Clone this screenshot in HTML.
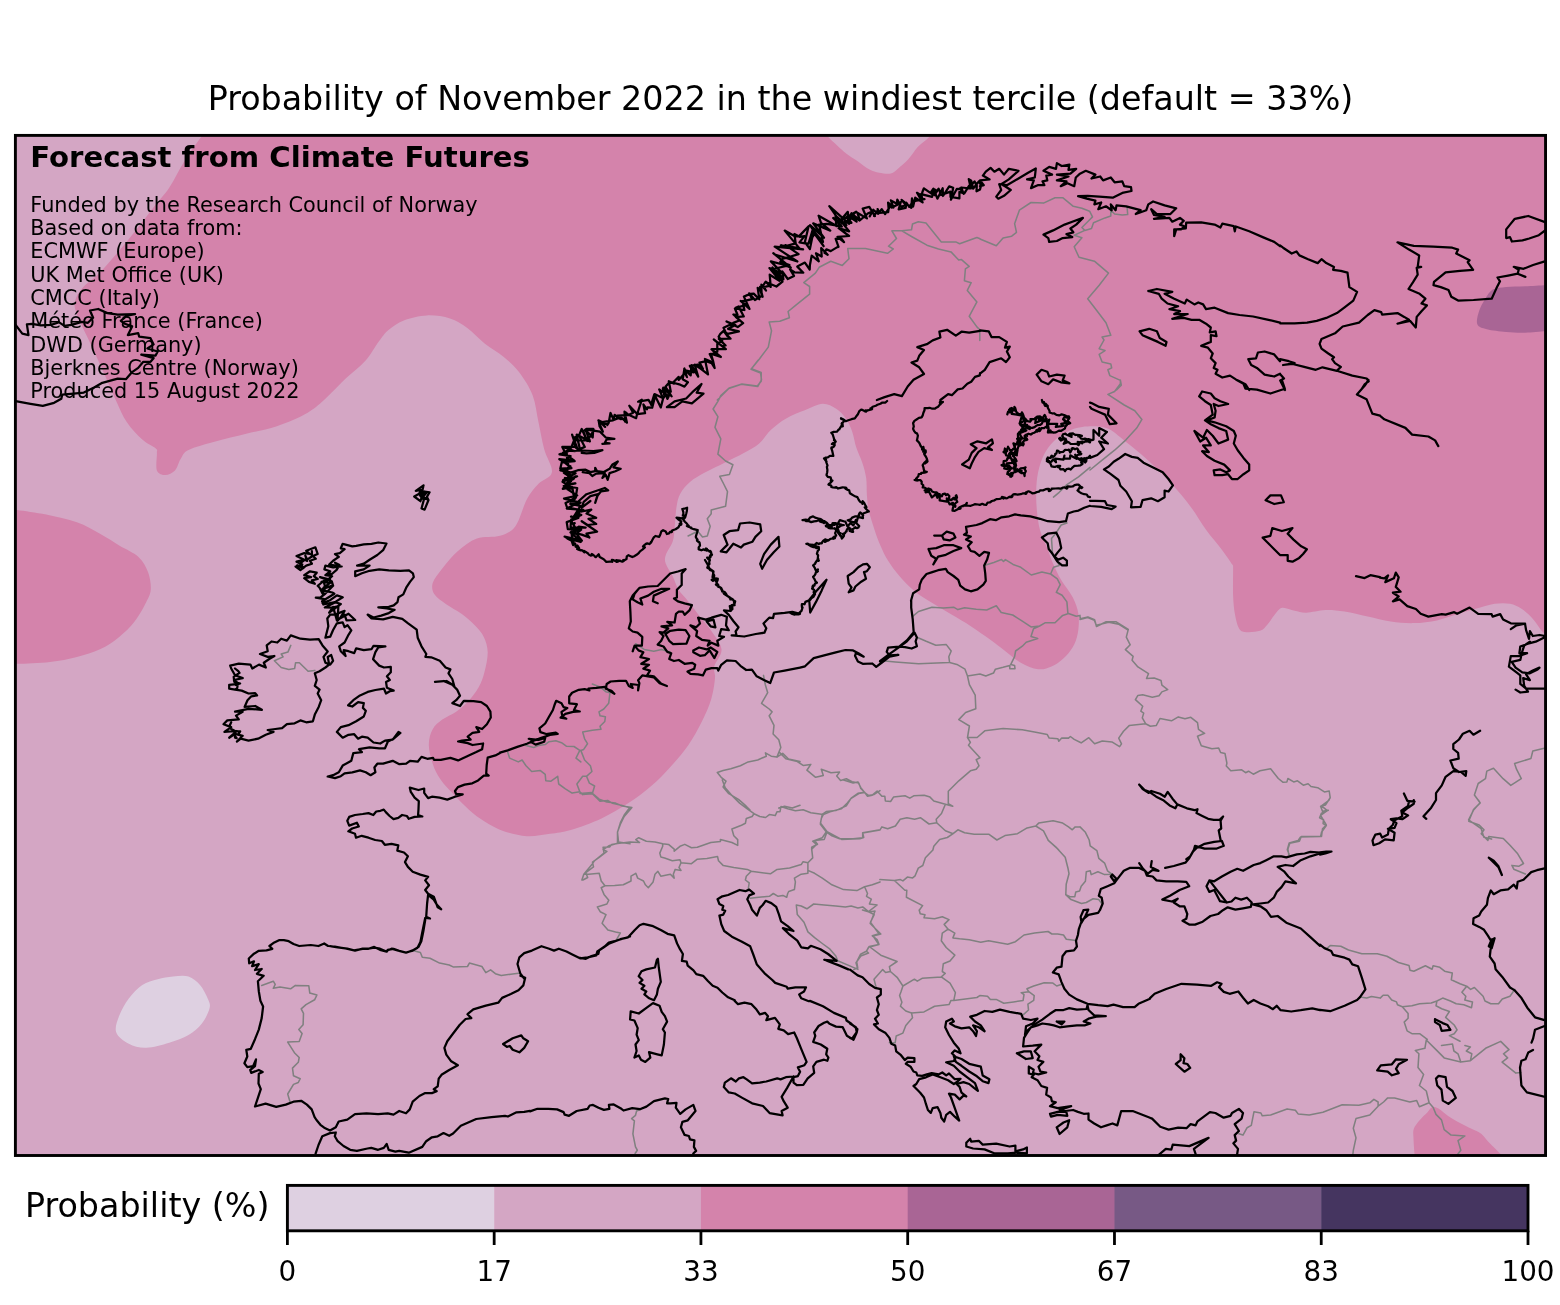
<!DOCTYPE html>
<html lang="en"><head><meta charset="utf-8"><title>Probability of November 2022 in the windiest tercile</title>
<style>
html,body{margin:0;padding:0;background:#fff;overflow:hidden}
svg{display:block;will-change:transform}
text{font-family:"DejaVu Sans","Liberation Sans",sans-serif;fill:#000}
.c{fill:none;stroke:#000;stroke-width:2.25;stroke-linejoin:round;stroke-linecap:round}
.b{fill:none;stroke:#808080;stroke-width:1.55;stroke-linejoin:round;stroke-linecap:round}
</style></head><body>
<svg width="1560" height="1305" viewBox="0 0 1560 1305">
<defs><clipPath id="ax"><rect x="15.4" y="135.4" width="1530.1499999999999" height="1020.1"/></clipPath></defs>
<rect width="1560" height="1305" fill="#fff"/>
<g clip-path="url(#ax)">
<rect x="15.4" y="135.4" width="1530.1499999999999" height="1020.1" fill="#d4a6c4"/>
<path d="M201.9,135.8C199.0,139.9 190.1,152.1 184.6,160.8C179.2,169.4 174.4,180.0 169.2,187.7C164.1,195.4 160.9,197.9 153.8,206.9C146.8,215.9 135.9,230.6 126.9,241.5C117.9,252.4 107.4,264.6 100.0,272.3C92.6,280.0 86.9,282.9 82.7,287.7C78.5,292.5 76.0,296.7 75.0,301.2C74.0,305.6 74.7,308.2 76.9,314.6C79.2,321.0 84.3,330.6 88.5,339.6C92.6,348.6 97.4,358.5 101.9,368.5C106.4,378.4 111.2,390.3 115.4,399.2C119.6,408.2 122.4,415.6 126.9,422.3C131.4,429.0 137.5,435.3 142.3,439.6C147.1,444.0 153.3,446.2 155.8,448.5C158.2,450.7 156.7,449.4 156.9,453.1C157.1,456.7 155.5,466.7 156.9,470.4C158.3,474.0 162.4,475.0 165.4,475.0C168.4,475.0 172.4,473.1 175.0,470.4C177.6,467.7 178.5,462.2 180.8,458.8C183.0,455.4 182.7,452.9 188.5,450.0C194.2,447.1 205.8,444.2 215.4,441.5C225.0,438.8 235.9,436.4 246.2,433.8C256.4,431.3 266.7,429.7 276.9,426.2C287.2,422.6 299.4,417.5 307.7,412.7C316.0,407.9 320.5,403.1 326.9,397.3C333.3,391.5 339.7,384.2 346.2,378.1C352.6,372.0 359.9,366.9 365.4,360.8C370.8,354.7 375.0,346.7 378.8,341.5C382.7,336.4 384.3,333.5 388.5,330.0C392.6,326.5 397.4,322.8 403.8,320.4C410.3,317.9 419.2,315.7 426.9,315.4C434.6,315.1 443.3,316.3 450.0,318.5C456.7,320.6 461.5,323.9 467.3,328.1C473.1,332.2 478.5,338.7 484.6,343.5C490.7,348.3 498.1,352.1 503.8,356.9C509.6,361.7 514.4,365.9 519.2,372.3C524.0,378.7 529.5,387.1 532.7,395.4C535.9,403.7 536.5,413.3 538.5,422.3C540.4,431.3 542.0,440.9 544.2,449.2C546.5,457.6 552.9,466.5 551.9,472.3C551.0,478.1 542.6,479.4 538.5,483.8C534.3,488.3 530.8,492.2 526.9,499.2C523.1,506.3 519.9,520.1 515.4,526.2C510.9,532.2 506.4,533.7 500.0,535.8C493.6,537.8 484.0,535.9 476.9,538.5C469.9,541.0 463.5,546.2 457.7,551.2C451.9,556.2 446.5,563.1 442.3,568.5C438.1,573.8 434.0,578.7 432.7,583.1C431.4,587.4 432.4,591.1 434.6,594.6C436.9,598.1 441.7,601.0 446.2,604.2C450.6,607.4 456.7,610.3 461.5,613.8C466.3,617.4 471.3,621.5 475.0,625.4C478.7,629.2 481.7,632.4 483.8,636.9C486.0,641.4 487.6,646.5 487.7,652.3C487.8,658.1 486.1,665.8 484.6,671.5C483.1,677.3 481.7,681.8 478.8,686.9C476.0,692.1 471.2,698.1 467.3,702.3C463.5,706.5 459.9,709.0 455.8,711.9C451.6,714.8 446.2,716.7 442.3,719.6C438.5,722.5 434.9,725.1 432.7,729.2C430.4,733.4 428.8,738.8 428.8,744.6C428.8,750.4 430.8,758.1 432.7,763.8C434.6,769.6 436.9,774.1 440.4,779.2C443.9,784.4 449.0,789.5 453.8,794.6C458.7,799.7 464.1,805.5 469.2,810.0C474.4,814.5 478.8,818.0 484.6,821.5C490.4,825.1 496.8,828.7 503.8,831.2C510.9,833.6 519.2,835.7 526.9,836.2C534.6,836.6 542.7,834.9 550.0,833.8C557.3,832.8 562.2,832.6 570.8,830.0C579.4,827.4 591.9,822.9 601.5,818.5C611.2,814.0 620.1,808.5 628.5,803.1C636.8,797.6 644.5,791.9 651.5,785.8C658.6,779.7 664.7,773.3 670.8,766.5C676.9,759.8 682.9,752.8 688.1,745.4C693.2,738.0 697.7,730.0 701.5,722.3C705.4,714.6 708.9,706.6 711.2,699.2C713.4,691.9 714.5,683.5 715.0,678.1C715.5,672.6 713.1,671.3 714.2,666.5C715.3,661.7 722.1,655.2 721.5,649.2C721.0,643.3 714.5,635.9 711.2,630.8C707.8,625.6 705.4,623.4 701.5,618.5C697.7,613.5 691.9,606.0 688.1,601.2C684.2,596.3 681.0,593.8 678.5,589.6C675.9,585.4 674.8,580.4 672.7,576.2C670.6,571.9 666.9,567.4 665.8,563.8C664.6,560.3 664.6,558.7 665.8,555.0C666.9,551.3 671.2,546.0 672.7,541.5C674.2,537.1 674.0,533.8 674.6,528.1C675.3,522.3 675.6,512.7 676.5,506.9C677.5,501.2 678.1,497.6 680.4,493.5C682.6,489.3 685.8,485.4 690.0,481.9C694.2,478.4 699.6,475.5 705.4,472.3C711.2,469.1 718.2,465.9 724.6,462.7C731.0,459.5 738.1,456.3 743.8,453.1C749.6,449.9 754.7,447.3 759.2,443.5C763.7,439.6 766.3,434.2 770.8,430.0C775.3,425.8 780.4,421.8 786.2,418.5C791.9,415.1 799.3,412.4 805.4,410.0C811.5,407.6 817.6,404.0 822.7,403.8C827.8,403.7 832.3,406.4 836.2,408.8C840.0,411.3 843.1,414.6 845.8,418.5C848.5,422.3 850.6,427.1 852.3,431.9C854.0,436.7 854.5,442.2 856.2,447.3C857.8,452.4 860.6,457.6 862.3,462.7C864.0,467.8 865.4,472.6 866.2,478.1C866.9,483.5 866.5,489.9 866.9,495.4C867.4,500.8 867.6,505.0 868.8,510.8C870.1,516.5 872.7,524.2 874.6,530.0C876.5,535.8 878.1,540.3 880.4,545.4C882.6,550.5 884.9,555.6 888.1,560.8C891.3,565.9 895.1,571.0 899.6,576.2C904.1,581.3 909.6,587.1 915.0,591.5C920.4,596.0 926.2,599.2 932.3,603.1C938.4,606.9 945.1,610.8 951.5,614.6C957.9,618.5 964.4,622.0 970.8,626.2C977.2,630.3 984.2,635.4 990.0,639.6C995.8,643.8 1000.3,647.3 1005.4,651.2C1010.5,655.0 1015.3,659.7 1020.8,662.7C1026.2,665.7 1032.9,668.6 1038.1,669.2C1043.2,669.9 1047.4,668.3 1051.5,666.5C1055.7,664.8 1059.6,662.1 1063.1,658.8C1066.6,655.6 1070.3,651.5 1072.7,647.3C1075.1,643.1 1076.7,639.3 1077.7,633.8C1078.7,628.4 1079.3,620.7 1078.5,614.6C1077.6,608.5 1075.6,603.1 1072.7,597.3C1069.8,591.5 1064.4,585.4 1061.2,580.0C1057.9,574.6 1055.7,569.7 1053.5,564.6C1051.2,559.5 1049.9,555.0 1047.7,549.2C1045.4,543.5 1041.8,536.4 1040.0,530.0C1038.2,523.6 1037.6,517.2 1036.9,510.8C1036.3,504.4 1036.0,497.9 1036.2,491.5C1036.3,485.1 1036.8,478.4 1038.1,472.3C1039.4,466.2 1041.3,460.1 1043.8,455.0C1046.4,449.9 1049.6,445.4 1053.5,441.5C1057.3,437.7 1062.1,434.4 1066.9,431.9C1071.7,429.5 1075.8,427.6 1082.3,426.9C1088.8,426.3 1099.0,425.6 1106.2,428.1C1113.3,430.5 1118.3,436.1 1125.4,441.5C1132.4,447.0 1140.8,453.7 1148.5,460.8C1156.2,467.8 1164.5,476.2 1171.5,483.8C1178.6,491.5 1185.0,499.2 1190.8,506.9C1196.5,514.6 1201.0,522.9 1206.2,530.0C1211.3,537.1 1217.2,543.5 1221.5,549.2C1225.9,555.0 1230.4,561.7 1232.3,564.6C1234.2,567.5 1232.9,561.4 1233.1,566.5C1233.2,571.7 1232.8,587.4 1233.1,595.4C1233.4,603.4 1234.0,609.2 1235.0,614.6C1236.0,620.1 1237.2,625.2 1238.8,628.1C1240.4,631.0 1241.1,631.5 1244.6,631.9C1248.1,632.4 1256.2,632.1 1260.0,630.8C1263.8,629.5 1265.1,627.1 1267.7,624.2C1270.3,621.4 1272.9,616.6 1275.4,613.8C1277.8,611.1 1279.1,608.2 1282.3,607.7C1285.5,607.2 1290.6,609.9 1294.6,610.8C1298.6,611.6 1301.0,612.8 1306.2,612.7C1311.3,612.6 1319.0,610.2 1325.4,610.0C1331.8,609.8 1337.6,610.4 1344.6,611.5C1351.7,612.6 1360.0,614.9 1367.7,616.5C1375.4,618.2 1383.1,620.4 1390.8,621.5C1398.5,622.6 1406.2,623.3 1413.8,623.1C1421.5,622.9 1429.9,621.8 1436.9,620.4C1444.0,619.0 1449.7,616.5 1456.2,614.6C1462.6,612.7 1469.0,610.6 1475.4,608.8C1481.8,607.1 1488.8,604.7 1494.6,603.8C1500.4,603.0 1505.5,603.0 1510.0,603.8C1514.5,604.7 1517.7,606.3 1521.5,608.8C1525.4,611.4 1529.6,615.4 1533.1,619.2C1536.6,623.1 1540.1,629.4 1542.7,631.9C1545.3,634.5 1547.5,634.2 1548.5,634.6L1560,640L1560,120L200,120Z" fill="#d483ab"/>
<path d="M825.4,132.7C825.9,133.4 826.3,134.8 828.3,136.9C830.2,139.0 833.9,142.4 836.9,145.2C840.0,148.0 843.0,151.1 846.5,153.8C850.1,156.6 854.2,158.9 858.1,161.5C861.9,164.2 866.1,167.8 869.6,169.6C873.1,171.5 875.7,172.1 879.2,172.7C882.8,173.3 887.6,174.2 890.8,173.5C894.0,172.7 895.6,170.6 898.5,168.3C901.3,166.0 904.9,163.1 908.1,159.6C911.3,156.1 914.8,150.3 917.7,147.1C920.6,143.9 923.5,142.1 925.4,140.4C927.3,138.7 928.1,138.2 929.2,136.9C930.4,135.6 931.6,133.4 932.1,132.7Z" fill="#d4a6c4"/>
<path d="M7.7,508.8C9.3,509.0 10.9,509.0 17.3,510.0C23.7,511.0 36.2,512.6 46.2,514.6C56.1,516.7 67.9,519.1 76.9,522.3C85.9,525.5 92.9,530.0 100.0,533.8C107.1,537.7 112.8,541.5 119.2,545.4C125.6,549.2 133.7,552.4 138.5,556.9C143.3,561.4 146.0,566.9 148.1,572.3C150.1,577.8 151.1,584.6 150.8,589.6C150.4,594.6 148.8,597.0 146.2,602.3C143.5,607.6 139.1,615.8 134.6,621.5C130.1,627.3 125.0,632.3 119.2,636.9C113.5,641.5 107.1,645.9 100.0,649.2C92.9,652.6 85.3,654.8 76.9,656.9C68.6,659.0 59.9,660.8 50.0,661.9C40.1,663.1 24.4,663.5 17.3,663.8C10.3,664.2 9.3,664.2 7.7,664.2L0,665L0,510Z" fill="#d483ab"/>
<path d="M173.1,976.5C178.2,976.1 184.0,975.1 188.5,976.5C192.9,977.9 196.8,981.3 200.0,985.0C203.2,988.7 206.1,994.6 207.7,998.5C209.3,1002.3 210.6,1003.9 209.6,1008.1C208.7,1012.2 205.4,1019.0 201.9,1023.5C198.4,1027.9 193.9,1031.8 188.5,1035.0C183.0,1038.2 176.3,1040.6 169.2,1042.7C162.2,1044.8 152.9,1047.5 146.2,1047.7C139.4,1047.9 133.8,1046.4 128.8,1043.8C123.8,1041.3 117.8,1037.0 116.2,1032.3C114.6,1027.6 117.1,1021.4 119.2,1015.8C121.3,1010.1 125.0,1003.6 128.8,998.5C132.7,993.3 137.5,988.2 142.3,985.0C147.1,981.8 152.6,980.6 157.7,979.2C162.8,977.8 167.9,977.0 173.1,976.5Z" fill="#ded0e1"/>
<path d="M1548.5,285.0C1544.6,285.2 1532.4,285.8 1525.4,286.2C1518.3,286.5 1511.6,286.3 1506.2,286.9C1500.7,287.5 1496.2,287.6 1492.7,289.6C1489.2,291.7 1487.2,295.7 1485.0,299.2C1482.8,302.8 1480.5,306.6 1479.2,310.8C1477.9,314.9 1476.0,321.2 1477.3,324.2C1478.6,327.3 1482.1,327.9 1486.9,329.2C1491.7,330.5 1499.7,331.3 1506.2,331.9C1512.6,332.5 1518.3,332.9 1525.4,332.7C1532.4,332.5 1544.6,331.1 1548.5,330.8Z" fill="#a96595"/>
<path d="M1414.8,1157.7C1414.6,1154.5 1413.6,1143.3 1413.5,1138.5C1413.3,1133.7 1412.8,1131.9 1413.8,1128.8C1414.9,1125.8 1417.4,1122.9 1419.6,1120.2C1421.9,1117.5 1425.2,1114.6 1427.3,1112.5C1429.4,1110.4 1430.2,1107.9 1432.1,1107.3C1434.0,1106.7 1436.1,1107.1 1438.8,1108.7C1441.6,1110.2 1444.9,1113.9 1448.5,1116.3C1452.0,1118.8 1456.2,1121.0 1460.0,1123.1C1463.8,1125.2 1468.0,1127.1 1471.5,1128.8C1475.1,1130.6 1478.3,1131.4 1481.2,1133.7C1484.0,1135.9 1486.4,1139.7 1488.8,1142.3C1491.2,1144.9 1493.2,1146.6 1495.6,1149.0C1498.0,1151.4 1502.0,1155.4 1503.3,1156.7Z" fill="#d483ab"/>
<g class="b">
<path d="M290.8,645.4L287.9,652.1L281.2,654.0L283.1,656.9L274.4,660.8L281.2,667.5L288.8,669.4L294.6,668.5L295.6,662.7L299.4,662.7L308.1,671.3L314.8,670.4 M412.7,950.6L420.4,952.5L422.3,957.3L430.0,958.3L439.6,963.1L449.2,965.0L453.1,966.9L467.5,966.5L469.4,963.1L481.9,966.5L485.8,972.7L490.6,969.8L495.4,973.7L501.2,975.6L510.8,974.2L520.4,973.1 M630.0,807.3L624.2,815.0L620.4,822.7L617.5,832.3L618.5,841.9L630.0,843.8 M618.5,842.9L608.8,845.8L603.1,849.6L606.9,851.5L599.2,857.3L592.5,862.1L593.5,866.9L585.8,872.7L587.7,877.5L582.9,880.0 M261.7,985.4L273.3,981.2L275.2,984.4L273.3,988.3L280.0,986.9L290.6,988.8L295.4,985.4L308.8,985.8L309.8,993.1L316.9,995.0L314.6,999.8L306.0,1004.6L301.2,1008.8L303.5,1013.3L303.1,1024.8L298.8,1029.6L302.1,1033.5L299.2,1041.5L287.7,1042.1L294.4,1052.7L299.2,1057.5L298.3,1062.3L292.5,1068.1L293.5,1075.8L300.2,1078.7L298.3,1082.5L293.5,1084.4L287.7,1094.0L290.0,1101.7 M635.6,643.7L644.2,649.4L653.8,651.3L661.5,649.4L670.2,651.9 M592.3,684.0L600.0,686.9L605.8,691.7L610.0,692.7L608.7,703.3L603.8,709.0L599.0,711.9L600.0,715.8L605.4,716.7L604.8,721.5L600.0,726.3L601.0,729.2L592.3,730.2L582.7,732.1L584.6,738.8L587.5,743.7L583.7,749.4L580.8,750.4 M526.0,745.6L533.7,747.5L538.5,745.6L545.2,744.6L549.0,741.7L555.8,740.8L561.5,742.7L566.3,746.2L574.0,746.5L579.8,750.4L576.0,758.1L580.8,761.9 M580.8,750.4L584.6,760.0L590.4,765.8L591.9,771.5L586.5,776.3L589.4,783.1L594.6,786.0L592.3,793.7 M507.7,752.3L509.6,758.1L518.3,761.9L522.1,760.0L526.0,765.8L531.7,771.5L540.4,770.6L545.2,774.4L545.8,780.8L551.0,781.2L557.7,776.3L558.7,784.0L565.4,788.8L572.1,793.1L579.8,791.7L576.9,784.0L582.7,776.3L586.5,776.3 M579.8,791.7L582.7,794.6L592.3,793.7L596.2,797.5L600.0,801.3L607.7,800.4L612.5,803.3L621.2,805.2L630.8,808.1 M763.5,675.4L765.4,685.0L767.7,692.7L761.5,703.3L769.2,709.0L772.1,711.9L769.2,715.8L774.0,725.4L773.1,734.0L778.8,739.8L780.8,747.5L776.9,757.1 M776.9,757.1L771.2,756.2L765.4,752.9L766.3,756.2L757.7,760.0L748.1,761.9L740.4,765.8L730.8,768.7L723.1,770.6L717.3,772.5L721.2,777.3L726.0,781.2L723.1,786.9L728.8,793.7L738.5,799.4L746.2,806.2L750.0,810.0 M776.9,757.1L782.7,753.3L788.5,759.0L800.0,761.5 M778.8,808.1L784.6,806.2L792.3,808.1L800.0,805.2 M758.3,360.0L751.5,368.7L761.2,372.5L761.2,381.2L757.3,386.0L741.9,384.0L729.4,387.9L720.8,395.6L717.9,401.3L713.1,409.0L717.9,416.7L715.0,427.3L720.8,438.8L717.9,454.2L725.6,461.0L732.9,464.8L729.4,474.4L719.8,476.3L723.7,484.0L727.5,491.7L725.6,506.2L711.2,510.0L711.2,513.8L707.3,518.7L710.2,526.3L707.3,536.0L702.5,536.9L697.7,531.2L688.1,536.0 M717.3,400.0L728.8,388.5L741.3,384.2L757.7,386.5L761.5,379.8L760.6,373.1L751.0,369.2L759.6,358.7L768.3,347.1L771.5,330.8L769.2,322.1L779.8,321.2L789.4,317.7L788.1,311.5L796.2,304.8L809.6,294.2L809.6,286.5L803.8,282.7L815.4,273.1L819.2,267.3L830.8,261.2L842.3,265.4L849.0,258.7L847.7,248.5L865.4,248.5L887.5,253.3L893.3,249.0L888.5,246.2L896.5,238.5L891.9,230.8L901.9,230.8 M901.9,230.8L911.5,236.5L926.9,245.2L938.5,249.0L951.0,251.9L958.7,260.0L961.5,259.6L969.2,266.3L965.4,268.8L964.4,280.8L971.2,282.7L967.3,290.4L976.9,301.9L969.2,316.3L976.9,326.9L979.8,329.8L979.8,340.4 M901.9,230.8L911.5,229.8L912.5,224.0L918.3,221.7L926.0,223.1L941.3,241.9L955.8,241.9L959.6,243.8L976.9,237.5L980.0,238.8 M984.2,565.4L993.8,562.5L1001.5,559.6L1003.5,561.5L1005.4,559.6L1013.1,564.4L1020.8,567.3L1031.3,575.0L1041.9,572.1L1050.6,574.0 M1066.0,521.2L1066.9,523.1L1061.2,525.0L1056.3,532.7L1051.5,538.5L1052.5,553.8L1057.3,561.5L1059.2,565.4L1053.5,567.3L1050.6,574.0 M1050.6,574.0L1057.3,578.8L1060.2,584.6L1056.3,592.3L1062.1,595.2L1066.9,601.9L1067.9,613.5 M1090.0,467.3L1078.5,476.9L1066.9,484.6L1059.2,492.3L1053.5,497.1 M880.0,660.6L895.4,661.9L918.5,663.8L949.2,662.5 M917.5,637.5L926.2,641.3L935.8,645.2L946.3,644.6L951.2,651.0L948.8,656.7L949.6,662.5 M949.6,662.5L956.9,664.4L965.0,669.2L967.5,676.0 M967.5,676.0L980.0,674.0L985.8,676.0L993.5,673.1L995.4,669.2L1003.1,667.3L1009.8,665.4L1009.8,668.8L1015.0,668.8L1014.6,665.4L1010.8,664.4L1014.6,656.7L1015.6,651.0L1022.3,646.2L1026.2,642.3L1037.7,638.5L1031.0,636.5L1033.5,628.8L1039.6,626.0 M967.5,676.0L969.4,684.6L975.2,695.2L975.8,708.7L965.6,712.5L958.8,719.6L969.4,726.0L967.5,737.5 M967.5,737.5L970.4,742.3L968.5,745.2L980.0,757.7L976.2,759.6L979.0,765.8L976.2,769.2L970.4,770.8L958.8,780.8L948.3,791.3L948.3,803.8L952.7,806.2 M967.5,737.5L977.1,737.5L984.8,730.8L1003.1,728.5L1022.3,729.8L1035.8,732.3L1047.3,734.6L1049.2,738.1L1057.9,738.8L1058.8,741.3L1061.7,738.1L1068.5,738.1L1070.4,736.5L1074.2,739.4L1080.0,742.3 M780.0,752.9L785.8,758.7L797.3,761.5L803.1,765.4L810.8,764.4L806.9,770.2L815.6,777.3L823.3,775.4L821.3,769.2L831.0,772.7L839.6,772.1L836.7,776.0L840.6,780.4L846.3,778.8L852.1,781.7L858.8,783.1L860.8,788.5L864.6,792.3 M864.6,792.3L867.5,796.2L872.3,795.2L877.1,791.0L881.9,796.2L884.8,796.2L885.4,801.0L890.6,801.5L893.5,797.1L905.0,795.8L909.8,798.1L913.7,795.8L924.2,795.2L930.0,797.1L933.8,801.0L945.4,804.2L952.7,806.2 M864.6,792.3L857.9,793.3L851.2,798.1L846.3,805.8L835.8,810.6L826.2,811.5L822.3,814.4 M822.3,814.4L820.4,823.1L827.1,831.7L824.2,839.4L814.6,840.4L817.5,844.2L811.7,847.1L811.7,850.0 M827.1,831.7L841.5,839.4L859.8,838.8L863.7,837.5L862.7,832.7L880.0,829.8L881.9,826.9L887.7,828.8L895.4,826.0L900.2,819.2L906.9,817.7L914.6,819.2L920.4,817.7L929.0,824.0L936.7,822.7 M945.4,804.2L941.5,813.5L936.2,819.2L936.7,822.7 M936.7,822.7L945.4,830.8L953.1,833.7L947.3,837.5L939.6,839.4L933.8,846.2L932.9,850.0 M953.1,833.7L957.9,829.8L964.6,832.7L974.2,834.2L988.7,834.2L996.9,840.0L1005.0,835.6L1017.5,833.7L1027.1,827.9L1035.8,826.0L1038.7,823.1L1053.1,820.8L1062.7,823.1L1068.5,826.9L1072.3,829.8L1075.2,826.9L1080.0,826.9 M1035.8,826.0L1043.5,830.8L1048.3,840.4L1056.9,848.1L1058.8,850.0 M912.7,616.3L918.5,611.5L931.9,607.3L943.5,608.1L954.0,607.3L957.9,609.6L964.6,607.7L976.2,609.2L986.7,610.0L996.3,605.8L1001.2,612.5L1012.7,615.0L1022.3,621.2L1031.0,626.9L1039.6,626.0L1045.4,622.7L1055.0,622.7L1062.7,615.4L1068.5,613.5 M1068.5,613.5L1076.2,616.3L1080.0,615.4 M583.8,874.2L588.7,874.2L599.2,873.3L601.2,881.0L605.0,885.8L601.2,887.7L604.0,894.4L608.8,900.2L606.9,904.0L597.3,906.9L600.2,911.7L606.0,914.6L602.1,923.3L607.9,930.0L615.6,931.9L620.4,932.9L616.5,939.6 M581.9,880.0L583.8,874.2L592.5,863.7L594.4,860.8L604.0,853.1L603.1,847.3L609.8,846.9L611.7,844.4L617.5,843.5L630.0,841.9L639.6,842.5L635.8,839.6L638.7,837.7L646.3,841.2L655.0,841.9L662.7,843.8L662.7,846.3L659.8,853.1L660.8,856.9L664.6,857.9L672.3,860.8L680.0,859.8L681.0,862.7L679.0,867.5L681.0,870.4L675.2,869.4L673.3,874.2L674.2,878.1L670.4,874.2L660.8,876.2L657.9,871.3L655.0,874.2L653.1,881.9L648.3,887.7L645.4,884.8L643.5,881.0L637.7,878.1L635.8,873.3L631.0,876.2L631.0,881.0L623.3,884.8L614.6,885.4L605.0,885.8 M580.0,793.5L591.5,792.5L599.2,799.2L606.9,802.1L615.6,803.1L622.3,806.0L631.9,807.5L624.2,816.5L620.4,824.2L617.5,831.9L617.5,843.5 M662.7,843.8L668.5,844.4L674.2,849.2L674.2,851.2L680.0,846.3L684.8,844.4L691.5,847.7L697.3,847.3L710.8,842.5L720.4,841.5L720.4,839.6L731.9,842.5L737.7,845.4L737.7,839.6L733.8,835.8L731.9,829.0L741.5,825.2L745.4,823.3L746.3,818.5L752.1,816.5L754.0,813.7 M722.3,780.0L725.2,787.7L731.9,795.4L739.6,803.1L747.3,808.8L754.0,813.7 M754.0,813.7L759.8,816.5L765.6,817.5L769.4,814.6L775.2,815.6L777.1,811.7L780.0,811.7L781.0,806.5L787.7,808.8L795.4,810.8L803.1,809.8L810.8,812.7L823.3,814.6 M681.0,862.7L691.5,863.7L697.3,859.2L706.9,858.5L717.5,856.5L718.5,860.8L723.3,865.6L733.8,867.5L747.3,869.4L751.2,871.3 M751.2,871.3L770.4,873.8L777.1,869.4L789.6,868.1L801.2,864.6L803.1,861.7L807.9,862.7 M807.9,862.7L812.7,857.9L811.7,849.2L816.5,844.4L812.7,841.2L822.3,837.7L826.2,831.9 M826.2,831.9L820.4,824.2L821.3,818.5L823.3,814.6 M823.3,814.6L830.0,811.7L841.5,808.8L847.3,803.1L851.2,798.3L858.8,793.5L864.6,792.5 M843.5,780.0L853.1,782.9L857.9,781.9L860.8,787.7L864.6,792.5L868.5,795.4L874.2,794.4L880.0,790.6 M826.2,831.9L831.9,835.8L839.6,838.7L853.1,838.7L862.7,837.7L862.7,832.9L874.2,831.0L880.0,830.0 M751.2,871.3L746.3,876.2L745.4,880.0L749.2,882.9L748.3,888.7L754.0,893.5 M750.2,898.3L758.8,897.3L769.4,896.3L773.3,893.5L778.1,896.3L782.9,895.4L786.7,897.3L787.7,893.5L788.7,891.5L794.4,889.6L795.4,881.9L794.4,878.1L801.2,874.2L807.9,873.3L807.9,862.7 M807.9,870.4L814.6,873.3L822.3,878.1L831.9,884.8L843.5,889.6L856.9,890.6L864.6,886.7L872.3,884.8L880.0,881.9 M837.7,960.8L835.8,956.0L830.0,949.2L822.3,943.5L814.6,937.7L807.9,931.9L804.0,922.3L797.3,914.6L796.3,905.0L801.2,906.0L806.9,908.8L813.7,904.0L824.2,905.0L835.8,906.0L845.4,906.9L851.2,906.0L857.9,907.9L862.7,906.9L868.5,911.7 M864.6,886.7L867.5,893.5L866.5,896.3L871.3,899.2L869.4,904.0L877.1,905.0L868.5,911.7L874.2,914.6L870.4,922.3L876.2,930.0L879.0,933.8L872.3,935.8L877.1,939.6L879.0,944.4L868.5,947.3L866.5,951.2L868.5,953.1L860.8,956.0L856.0,962.7L857.9,969.4L849.2,965.6L837.7,960.8 M641.0,1109.2L636.6,1111.0L635.5,1115.3L631.6,1118.6L634.4,1120.8L632.9,1133.9L635.5,1146.9L637.3,1150.2L635.1,1153.5 M862.5,910.0L869.2,911.9L875.0,911.0L870.2,923.5L880.8,934.0L873.1,936.0L878.8,944.6L869.2,946.5L866.3,951.3L860.6,954.2L856.7,961.9L857.7,967.7L853.8,969.6 M869.2,946.5L880.8,955.2L897.1,961.5L889.4,966.7L890.4,971.5L885.6,972.5L882.7,969.6L874.0,979.2L876.0,986.9 M890.4,971.5L897.1,977.3L902.9,986.0L901.0,991.7L899.6,995.6L901.9,1002.3L900.4,1006.2L905.8,1011.0L911.5,1012.9 M902.9,986.0L914.4,979.2L917.3,981.2L922.1,978.3L941.3,976.9 M919.2,910.0L920.2,913.8L925.0,914.8L924.0,917.7L934.6,918.7L942.3,916.7L949.0,919.6L944.2,924.4L948.1,929.2L942.3,933.1L941.3,940.8L946.2,947.5L954.8,955.2L950.0,961.0L943.3,963.8L942.3,971.5L945.2,973.5L941.3,976.9 M948.1,929.2L954.8,933.1L952.9,937.9L959.6,938.8L969.2,939.8L980.8,942.3L988.5,940.8L1007.7,944.2L1015.4,941.7L1024.0,935.0L1034.6,933.1L1048.1,931.5L1051.9,934.0L1057.7,934.0L1063.5,935.0L1066.3,939.2L1076.0,940.4 M941.3,976.9L950.0,983.1L955.4,992.7L953.8,1000.4 M911.5,1012.9L924.0,1011.9L934.6,1006.2L949.0,1004.6L951.0,1000.4L953.8,1000.4 M953.8,1000.4L967.3,998.8L976.9,997.5L979.8,995.6L987.5,996.2L990.4,999.4L996.2,999.4L1003.8,1003.3L1013.5,1001.9L1023.1,1000.4L1024.0,994.6L1021.2,992.7L1028.8,991.7 M1028.8,991.7L1026.9,988.8L1033.7,986.0L1044.2,982.7L1052.9,983.1L1056.7,986.0L1062.5,984.0 M1028.8,991.7L1034.2,995.6L1033.7,1000.4L1027.9,1004.2L1028.5,1010.0L1023.1,1014.8 M911.5,1012.9L912.5,1017.7L905.8,1025.4L902.9,1033.1L896.2,1036.0L895.2,1042.7L889.4,1042.7 M1047.9,840.0L1056.5,847.7L1065.2,857.3L1068.1,868.8L1069.0,873.7L1066.2,884.2L1065.8,894.8L1071.0,899.6L1081.5,903.5L1086.3,902.5L1093.1,898.7L1098.8,899.6L1101.7,903.5 M1080.0,826.9L1085.4,832.3L1089.2,840.0L1090.2,845.8L1096.9,850.6L1098.8,858.3L1104.6,863.1L1107.5,870.8L1111.9,874.2 M1111.9,874.2L1104.6,874.6L1097.9,871.7L1091.2,874.6L1090.2,870.8L1086.3,871.7L1085.4,881.3L1081.2,886.2L1079.6,891.0L1075.8,891.9L1074.8,896.7L1070.0,896.7L1065.8,894.8 M1299.8,840.0L1289.2,842.9L1287.3,849.6L1289.2,854.4 M1329.2,800.0L1321.5,805.8L1327.3,810.6L1320.6,815.4L1326.3,825.0L1322.5,828.8L1321.5,836.5L1301.3,836.5L1299.4,841.3L1289.8,843.3L1287.9,849.0L1288.8,854.8 M1327.3,948.1L1330.2,945.6L1340.8,946.2L1348.5,950.0L1361.9,953.8L1377.3,953.8L1386.9,956.2L1398.5,962.5L1409.0,965.4L1410.0,970.2L1413.8,971.2L1425.4,965.8L1432.1,969.2L1433.1,965.8L1439.8,967.3L1444.6,971.2L1452.3,973.1L1451.3,979.8L1460.0,983.7L1466.7,986.2 M1466.7,986.2L1470.6,989.4L1474.4,987.5L1483.1,996.2L1485.0,1001.0L1490.8,1003.8L1498.5,1003.8L1502.3,999.0L1510.0,996.2L1514.8,989.4 M1466.7,986.2L1461.9,992.3L1465.8,996.2L1464.8,1000.0L1472.5,1001.9L1471.5,1007.7L1463.8,1004.8L1456.2,1003.8L1450.4,1001.0L1442.7,998.1L1436.9,1001.0 M1360.0,997.1L1366.7,998.1L1371.5,996.5L1380.2,998.1L1383.1,995.2L1387.9,995.2L1391.7,1000.0L1396.5,1001.9L1397.5,1004.8L1402.3,1006.7L1411.9,1005.8L1419.6,1003.8L1431.2,1002.9L1436.9,1001.0 M1402.3,1006.7L1408.1,1013.5L1408.1,1018.3L1404.2,1022.1L1407.1,1030.8L1411.9,1033.7L1419.6,1033.7L1427.3,1039.4 M1436.9,1001.0L1436.0,1005.8L1441.7,1008.7L1449.4,1011.5L1445.6,1017.3L1454.2,1025.0L1457.1,1029.8L1454.2,1033.7L1449.4,1035.6L1460.0,1041.3 M1478.3,800.0L1480.2,802.9L1473.5,809.6L1468.7,821.2L1479.2,825.0L1484.0,829.8L1481.2,833.7L1487.9,840.4L1488.8,836.5L1503.3,838.5L1510.0,845.2L1517.7,853.8L1523.5,863.5L1518.7,866.3L1511.9,865.4L1513.8,869.2L1525.4,874.0 M1238.9,1133.7L1243.0,1135.1L1247.1,1127.7L1251.3,1125.4L1254.0,1111.7L1260.9,1113.0L1262.3,1115.8L1270.6,1115.0L1287.1,1108.9L1295.4,1110.3L1298.1,1113.9L1309.2,1115.0L1322.9,1112.2L1342.2,1104.8L1358.8,1105.3L1369.8,1102.8L1373.9,1099.3L1378.1,1102.0L1378.1,1106.2 M1378.1,1106.2L1369.8,1115.0L1356.0,1118.6L1353.3,1128.2L1356.0,1137.9L1353.3,1150.3L1352.7,1155.8 M1378.1,1106.2L1383.6,1102.0L1387.7,1097.9L1394.6,1097.9L1409.8,1102.0L1416.7,1100.6L1419.4,1106.7L1429.1,1102.8 M1429.1,1102.8L1426.3,1091.0L1419.4,1085.5L1423.6,1074.5L1418.0,1067.6L1418.9,1053.8L1415.3,1050.5L1424.9,1048.3L1426.3,1040.0 M1429.1,1102.8L1433.2,1107.5L1436.0,1114.4L1441.5,1119.9L1444.2,1129.6L1451.1,1135.1L1464.9,1135.9L1458.0,1140.6L1460.8,1150.3L1456.6,1155.8 M1426.3,1040.0L1436.0,1049.6L1444.2,1057.9L1460.8,1062.1L1470.4,1060.7L1485.6,1048.3L1500.7,1041.4L1509.0,1049.6L1503.5,1053.8L1507.6,1057.9L1502.1,1062.1L1515.9,1073.1L1520.8,1072.5 M1441.5,1045.5L1452.5,1044.1L1453.9,1051.0L1458.0,1053.8L1460.8,1062.1 M1464.9,1045.5L1470.4,1046.9L1466.3,1051.0L1471.8,1053.8L1470.4,1060.7 M980.0,239.0L996.3,245.8L1003.1,238.1L1011.7,236.2L1016.5,232.3L1014.6,223.7L1019.4,210.2L1031.0,202.5L1043.5,203.1L1055.0,197.7L1062.7,197.7L1073.3,206.3L1081.9,208.3L1089.6,211.2L1092.5,216.9L1087.7,221.7L1081.9,227.5L1084.8,230.4L1091.5,228.5L1093.5,222.7L1105.0,217.9L1110.8,216.0L1110.8,210.2 M1110.8,210.2L1114.6,214.0L1122.3,215.0L1127.7,214.6L1127.1,207.3 M1084.8,230.4L1074.2,235.2L1081.9,237.7L1074.2,246.7L1079.0,257.3L1094.4,261.2L1108.5,273.1L1099.2,285.2L1087.7,298.7L1097.3,311.2L1106.0,322.7L1110.8,335.2L1102.1,337.1L1104.0,340.0L1099.2,348.7L1105.0,350.6L1099.2,354.4L1102.1,362.1L1110.8,364.0L1111.7,367.9L1107.9,369.8L1109.8,375.6L1120.4,380.4L1121.3,385.2L1116.5,390.0 M1120.4,380.0L1120.4,383.8L1114.6,391.5L1107.9,394.4L1124.2,405.0L1134.8,410.8L1141.9,419.4L1136.7,428.1L1126.2,439.6L1114.6,450.2L1101.2,460.8L1090.0,470.0 M1080.0,619.4L1087.7,617.5L1094.4,620.4L1096.3,625.2L1108.8,622.3L1118.5,624.2L1128.1,630.0 M1080.0,616.0L1080.2,618.8L1087.9,616.9L1094.6,619.8L1096.5,626.5L1106.2,621.7L1115.8,621.7L1123.5,626.5L1128.3,629.4L1126.3,637.1L1130.2,644.8L1125.4,649.6L1133.1,656.3L1132.1,660.2L1137.9,666.9L1148.5,673.7L1146.5,678.5L1154.2,678.1L1161.0,680.4L1161.9,685.2L1167.7,689.6L1161.9,691.9L1159.0,695.8L1152.3,697.3L1142.7,694.8L1137.9,695.4L1135.4,699.6L1142.7,706.3L1140.8,711.2L1143.7,713.1L1142.3,717.9L1145.6,723.7 M1080.0,742.3L1081.2,742.9L1088.8,737.7L1094.6,743.8L1102.3,741.0L1111.9,741.9L1119.6,746.7L1121.5,743.8L1118.7,738.1L1123.5,731.3L1129.2,725.6L1145.6,723.7 M1145.6,723.7L1150.4,726.2L1156.2,725.6L1160.0,718.5L1171.5,720.8L1178.3,716.9L1185.0,718.8L1190.8,717.3L1197.5,722.7L1198.5,729.4L1204.6,733.3L1197.5,736.2L1201.3,745.8L1211.9,748.7L1218.7,748.1L1220.6,752.5L1225.0,753.5L1226.9,763.1L1226.3,766.0L1230.8,770.8L1241.7,769.8L1245.6,772.7L1248.5,771.2L1253.3,774.2L1260.0,770.8L1270.6,768.8L1278.3,778.5L1283.1,782.3L1286.9,781.9L1287.9,778.5L1293.7,781.9L1297.5,780.8L1303.3,785.2L1308.1,783.8L1311.0,786.5L1317.7,787.7L1324.4,791.9L1329.2,791.0L1330.2,797.7L1325.4,805.0L1320.6,806.3L1322.5,811.2L1328.3,810.2L1321.5,813.1L1319.6,817.9L1323.5,819.8L1323.1,823.7L1326.3,825.6L1321.5,832.3L1320.6,836.5L1300.4,837.1L1298.5,840.0 M1545.3,748.1L1532.8,751.0L1530.9,758.6L1514.6,763.4L1516.5,769.2L1521.3,778.7L1510.8,785.4L1503.1,778.7L1493.5,768.2L1486.8,771.1L1485.5,778.7L1478.2,783.5L1474.4,795.0L1480.1,802.7L1473.4,810.3L1468.6,819.9L1481.1,828.6L1483.9,837.2L1491.6,839.1 M932.9,850.0L925.4,857.8L922.8,865.5L918.3,868.1L915.1,875.8L912.6,877.9L907.4,877.1L902.9,880.9L900.4,879.6L894.4,880.5 M894.4,880.5L879.9,879.6 M894.4,880.5L904.9,890.3L906.8,890.3L906.4,897.2L922.6,905.6L919.6,909.7L919.2,910.4"/>
</g>
<g class="c">
<path d="M342.7,543.8L352.3,546.3L356.2,545.8L363.8,544.4L371.5,543.8L378.3,542.5L386.5,543.5L383.1,550.2L377.3,555.0L369.6,559.8L363.8,563.7L357.1,565.6L369.6,565.6L363.8,569.4L355.2,571.3L355.2,576.2L361.9,573.3L369.6,570.8L379.2,569.4L388.8,570.4L400.4,570.8L409.0,570.4L412.9,573.3L413.8,577.1L410.0,581.9L406.2,587.7L403.3,594.4L398.5,597.3L397.5,602.1L393.7,605.4L388.8,606.9L378.3,607.3L386.9,608.5L394.6,609.8L388.8,613.1L381.2,615.6L373.5,617.5L367.7,614.6L371.5,618.5L383.1,619.4L392.7,616.9L402.3,618.8L408.1,623.3L416.7,629.6L417.7,637.7L421.5,646.3L426.3,654.0L425.4,656.9L431.2,657.3L439.8,660.8L445.6,667.5L450.4,669.4L448.5,673.3L452.3,679.0L454.2,685.8L446.5,681.0L435.0,681.9L443.7,681.0L452.3,684.8L457.1,689.6L460.0,695.8L456.2,700.2L452.3,703.1L460.0,706.0L463.8,700.8L473.5,701.2L481.2,702.1L486.9,706.0L490.4,711.7L490.8,717.5L486.9,724.2L482.1,729.0L476.3,727.1L479.2,731.9L472.5,732.9L467.7,736.7L470.6,739.6L461.9,740.6L458.1,741.5L467.7,743.1L472.5,745.0L483.1,743.5L482.1,749.2L476.3,752.1L467.7,756.0L458.1,760.4L450.4,757.9L440.8,759.8L434.0,759.8L433.1,757.9L427.3,758.8L421.5,756.9L417.7,761.7L410.0,760.8L406.2,763.7L399.4,764.2L392.7,760.8L383.1,763.7L377.3,763.7L374.4,767.5L375.4,772.3L370.6,775.2L365.8,772.3L360.0,770.4L352.3,772.3L344.6,773.3L340.8,776.2L335.0,778.1L327.7,776.5L333.1,775.2L338.8,772.3L342.7,765.6L351.3,760.8L353.3,753.1L361.9,752.1L359.0,749.2L369.6,747.3L379.2,748.3L385.0,748.3L387.9,741.5L393.7,738.7L400.4,732.9L398.5,731.9L392.7,739.6L385.0,740.6L380.2,743.5L373.5,742.5L367.7,737.7L361.9,736.7L358.1,738.7L354.2,734.2L348.5,734.8L342.7,737.7L336.9,731.9L340.8,727.1L348.5,725.2L356.2,721.3L363.8,716.5L365.8,710.8L362.9,707.9L363.8,703.1L358.1,702.1L352.3,706.5L348.1,705.4L353.3,700.2L360.0,695.4L367.7,691.9L375.4,690.0L384.0,688.7L386.0,693.5L389.8,691.2L393.7,690.6L386.9,687.7L386.0,681.9L389.8,680.0L386.9,676.2L390.8,672.3L390.8,666.9L384.0,667.5L379.2,665.6L373.1,659.2L375.4,652.1L378.3,647.3L385.4,646.3L373.5,645.8L371.5,649.2L363.8,650.2L356.2,648.3L354.2,653.1L348.5,651.2L343.7,650.2L345.6,656.0L340.8,651.2L339.2,646.3L344.6,642.5L348.5,634.8L351.3,630.4L347.5,625.2L344.6,627.1L342.7,622.3L336.9,623.3L333.1,630.0L330.2,636.7L325.4,637.7L328.3,626.2L327.3,618.5L330.2,614.6L335.0,614.6L344.6,610.8L339.8,618.5L348.5,613.7L355.2,620.0L346.5,620.4L344.6,614.6L336.9,620.4L333.1,606.9L329.2,612.7L340.8,604.0L335.0,602.1L342.7,597.3L336.9,595.4L330.2,600.2L322.5,603.1L324.4,599.2L315.8,597.7L320.6,597.3L325.4,593.5L333.1,585.8L323.5,587.7L330.2,582.9L321.5,581.9L327.3,580.4L332.1,576.2L325.4,575.2L330.2,571.3L324.4,569.4L325.4,565.6L333.1,567.5L341.7,566.5L336.0,565.6L329.2,564.6L333.1,560.8L338.8,556.9L335.0,554.0L339.8,553.1L344.6,549.2L340.8,548.3L342.7,543.8 M315.4,547.3L317.7,554.0L312.9,556.0L315.8,558.8L310.0,560.8L311.9,563.7L306.2,565.6L300.4,570.0L295.6,566.5L302.3,564.6L296.5,561.7L304.2,559.8L296.5,556.0L304.2,553.1L310.0,554.0L306.2,550.8L315.4,547.3 M304.2,575.2L310.0,571.3L316.7,572.7L313.8,576.2L317.7,579.0L311.9,580.4L314.8,583.8L309.0,581.9L304.2,578.1L311.0,577.1L304.2,575.2 M317.7,585.8L323.5,581.0L325.4,587.7L322.5,593.5L319.6,587.7L317.7,585.8 M290.8,635.4L300.4,638.7L310.0,639.6L318.7,639.2L322.5,645.4L327.7,651.5L323.5,656.9L325.4,662.7L330.2,664.6L333.1,660.8L331.2,655.0L327.7,656.9L329.2,664.6L325.4,667.5L319.6,671.3L314.8,673.3L316.7,680.0L314.8,685.8L319.6,689.6L317.7,693.5L321.2,700.2L318.7,706.9L314.8,714.6L312.9,721.3L306.2,722.3L300.4,720.4L294.6,723.3L286.9,724.2L282.1,728.1L275.4,729.0L267.7,730.0L273.5,731.9L265.8,734.8L258.1,738.7L248.5,740.6L240.8,738.7L236.9,741.5L242.7,735.8L235.0,733.8L229.2,737.7L236.9,731.0L224.4,731.9L231.2,727.1L223.5,724.2L227.3,720.4L238.8,719.4L236.0,715.6L242.7,711.7L235.0,711.7L248.5,708.8L261.9,709.8L255.2,706.0L244.6,706.9L247.5,700.2L251.3,696.3L257.1,695.4L255.2,693.1L248.5,693.5L241.7,690.6L235.0,689.6L229.2,688.7L229.2,684.8L238.8,683.8L234.0,680.0L242.7,678.1L235.0,675.2L231.2,668.5L230.2,665.6L238.8,663.7L250.4,664.6L252.3,668.5L259.0,664.6L265.8,667.5L263.8,662.7L269.6,658.8L274.4,656.0L267.7,656.9L260.0,654.0L267.7,651.2L266.7,645.4L271.5,641.5L277.3,642.5L281.2,638.7L286.9,640.6L290.8,635.4 M335.0,562.7L339.5,565.1L336.6,569.9L331.9,574.0L329.4,573.5L330.1,579.6L320.0,577.1L331.7,581.2L333.0,585.4L320.7,589.8L332.3,592.5L334.4,593.7L322.1,601.3L325.1,601.5L323.3,604.5L336.0,601.9L324.8,607.5L332.7,607.7L338.4,606.2L337.7,617.4L337.5,620.9L339.0,619.1L340.8,617.5 M311.9,551.2L311.9,556.0L311.8,556.5L307.2,559.6L305.3,555.7L307.2,560.9L305.1,559.7L300.1,563.3L303.4,568.1L297.1,565.4L300.4,566.5 M231.2,722.3L229.4,726.3L230.8,728.8L235.0,731.1L240.2,731.3L238.2,734.5L233.3,734.2L236.6,738.1L235.0,737.7 M235.0,668.5L238.3,671.2L239.5,672.9L233.7,676.8L234.3,681.9L240.1,683.5L235.6,684.8L237.6,685.3L237.1,688.6L235.0,689.6 M500.0,753.1L495.4,755.4L487.7,757.7L486.7,765.0L486.2,773.7L488.7,775.6L483.8,775.6L478.1,780.4L472.3,783.3L464.6,784.6L457.9,787.1L455.0,791.0L456.0,793.8L462.7,794.4L455.0,796.7L447.3,799.6L439.6,797.7L431.9,796.7L428.1,798.1L424.2,792.9L424.2,788.5L418.5,790.0L409.8,787.7L410.8,791.9L414.6,797.7L418.8,801.2L418.5,809.2L418.1,815.0L422.3,816.5L414.6,816.9L408.8,818.8L406.9,816.0L402.1,815.0L398.3,817.9L393.5,819.2L389.6,816.0L385.8,812.1L383.8,809.6L380.4,810.8L376.2,811.5L373.3,815.0L368.5,813.1L362.7,814.0L355.0,815.0L349.2,816.9L347.3,820.8L349.2,825.6L356.9,822.7L358.8,826.5L352.1,828.5L348.3,831.3L355.0,833.8L356.0,837.7L361.7,835.8L368.5,837.7L375.2,840.0L381.9,841.0L384.8,844.8L391.5,843.8L398.3,845.4L397.3,850.6L404.0,852.5L407.9,856.3L405.0,862.1L407.9,866.9L412.7,871.7L420.4,874.6L428.1,876.9L425.2,880.4L429.0,885.2L425.2,890.0L428.1,893.8L433.8,896.7L437.7,907.3L441.2,909.2L436.7,904.4L433.8,899.6L428.1,894.8L427.1,903.5L426.2,916.9L430.0,918.5L425.2,917.9L422.3,932.3L420.4,941.9L417.5,947.7L412.7,950.6L406.0,952.5L398.3,950.6L391.5,948.7L385.8,951.2L380.0,948.7L374.2,947.7L368.5,948.7L362.7,948.7L355.0,950.6L347.3,948.7L337.7,947.3L330.0,946.2 M524.2,978.5L520.4,973.7L517.5,964.0L519.4,957.3L524.2,953.1L531.9,950.6L541.5,946.2L549.2,948.7L554.0,950.6L558.8,948.7L566.5,951.5L572.3,954.4L580.0,958.3L587.7,957.3L596.3,955.4L597.3,951.5L603.1,947.7L608.8,943.8L618.5,940.0L630.0,936.5 M425.2,920.0L423.3,931.5L421.3,941.2L418.5,946.9L412.7,950.4L406.0,952.7L399.2,950.8L393.5,948.8L387.7,949.8L386.7,951.7L380.0,949.8L374.2,946.9L368.5,948.8L362.7,948.8L354.0,950.4L345.4,948.5L334.8,946.5L328.1,946.0L324.2,943.5L318.5,946.0L310.8,945.0L299.2,946.0L293.5,944.0L288.7,941.2L283.8,940.2L279.0,940.2L273.3,943.1L269.4,946.0L272.3,948.8L266.5,950.4L258.8,950.8L254.0,953.7L248.8,958.5L249.2,963.3L254.0,961.3L252.1,966.2L258.8,964.2L255.0,970.0L261.7,969.0L256.9,973.8L263.7,975.8L257.9,981.2L258.8,991.2L260.4,1000.8L263.1,1006.5L261.7,1018.1L258.8,1029.6L255.0,1039.2L250.8,1048.8L246.3,1049.8L247.3,1056.5L244.4,1063.3L247.3,1067.1L253.1,1066.2L256.0,1059.4L255.0,1066.2L250.2,1070.0L251.2,1072.9L258.8,1070.0L262.7,1071.9L258.8,1073.8L258.5,1083.5L260.8,1089.2L257.9,1097.9L255.0,1106.5L265.6,1103.7L276.2,1106.9L285.8,1104.6L293.5,1101.7L301.2,1100.8L306.9,1104.6L311.7,1109.4L314.6,1117.1L316.5,1120.0L320.4,1124.8L324.2,1127.7L330.0,1130.6L335.8,1127.3L338.7,1121.5L347.3,1119.6L355.0,1114.2L366.5,1113.3L378.1,1114.2L387.7,1113.3L393.5,1114.6L399.2,1111.0L406.0,1113.3L409.8,1109.4L412.7,1101.7L419.4,1096.0L425.2,1093.1L431.9,1093.1L436.7,1091.2L433.8,1089.2L437.7,1086.3L438.7,1078.7L441.5,1074.8L449.2,1070.0L457.9,1065.2L451.2,1061.3L446.3,1054.6L444.4,1047.9L447.3,1041.2L453.1,1033.5L459.8,1024.8L465.6,1019.0L471.3,1018.1L467.5,1014.2L473.3,1009.4L485.8,1005.6L498.3,1002.7L502.1,997.9L510.8,994.0L518.5,990.2L523.3,985.4L525.2,977.7L520.4,975.8 M315.6,1153.7L318.5,1145.0L322.3,1136.3L330.0,1133.1L335.8,1132.5L334.8,1136.3L337.7,1141.2L343.5,1146.0L350.2,1149.8L356.9,1150.8L367.5,1148.5L371.3,1147.9L378.1,1149.8L383.8,1147.9L386.7,1144.0L388.7,1149.8L395.4,1151.7L399.2,1150.8L408.8,1152.7L422.3,1146.9L426.2,1141.2L431.9,1137.3L437.7,1136.3L443.5,1133.1L449.2,1135.8L453.1,1133.5L460.8,1125.8L476.2,1119.0L491.5,1117.1L505.0,1115.8L507.9,1116.5L516.5,1112.3L524.2,1111.9L530.0,1110.8 M503.1,1044.0L512.7,1038.3L521.3,1035.4L523.3,1038.3L528.1,1041.2L524.2,1047.9L519.4,1052.3L512.7,1049.8L509.8,1046.0L506.9,1046.9L503.1,1044.0 M500.0,752.7L507.7,750.4L517.3,746.9L526.9,743.7L533.7,740.8L528.8,738.8L538.5,739.8L545.2,737.9L544.2,741.7L535.6,744.6L530.8,741.7L541.3,737.9L550.0,735.0L557.7,734.0L555.8,732.7L546.2,734.0L540.4,732.1L539.4,728.3L545.2,723.5L549.0,716.7L552.9,710.0L554.8,704.2L556.2,700.8L561.5,703.3L563.5,707.1L567.3,708.1L561.5,711.9L562.5,716.7L566.3,718.7L560.6,717.7L565.4,713.8L573.1,711.9L579.8,711.5L574.0,710.0L576.9,704.2L569.2,703.3L569.2,696.5L572.1,692.7L578.8,689.8L584.6,689.2L589.4,690.4L588.5,688.5L596.2,687.9L604.8,686.9L609.6,690.8L614.4,693.7L611.5,690.8L605.8,688.8L606.7,684.0L610.6,681.5L619.2,680.8L626.0,680.8L628.8,686.0L632.7,687.9L630.8,684.0L638.5,685.0L638.1,690.4L639.4,683.1L638.1,680.2L642.3,675.4L648.1,676.3L653.8,677.3L659.6,683.1L666.9,686.0L661.5,684.0L653.8,676.3L647.1,675.4L650.0,670.6L643.3,668.7L649.0,664.8L641.3,663.8L649.0,659.0L640.4,657.1L643.3,652.3L638.5,650.4L634.6,645.6L632.7,651.3L634.6,645.6L641.9,645.6L642.3,636.9L637.5,632.7L632.7,631.5L628.8,628.3L630.8,621.5L630.4,611.9L629.8,601.3L632.7,595.6L639.4,587.9L648.1,586.5L657.7,586.0L664.4,579.2L670.2,573.5L677.9,571.5L685.6,569.2L681.7,573.5L681.7,585.0L676.9,589.8L676.9,597.5L674.0,598.5L677.9,601.3L684.6,603.3L691.9,605.2L689.4,610.4L684.6,614.8L682.7,611.5L678.8,611.5L676.0,613.8L674.6,622.5L667.3,621.9L672.1,625.4L661.5,626.3L668.3,628.3L663.5,632.7L659.6,632.1L663.5,636.0L661.2,640.8L657.7,644.6L663.5,646.5L667.3,651.9L671.2,653.3L669.2,659.0L674.0,661.0L678.8,660.0L684.6,663.8L692.3,662.9L695.2,664.8L694.2,668.7L687.5,671.5L690.4,673.8L698.1,674.4L702.9,675.4L705.8,669.6L711.5,668.1L717.3,668.1L718.3,670.6L721.2,664.8L726.9,660.4L735.6,661.0L740.4,665.8L746.2,670.0L751.9,669.6L756.7,676.3L764.4,680.2L770.2,683.1L774.0,672.5L784.6,670.6L800.0,667.7 M639.4,587.9L634.6,593.7L632.7,599.4L637.5,602.3L642.3,604.6L640.4,598.5L648.1,595.6L653.8,591.7L661.5,588.8L669.2,588.8L662.5,591.7L653.8,595.6L652.9,601.3L657.7,603.3 M665.4,634.0L670.2,630.8L678.8,629.6L685.6,630.2L689.4,636.0L686.5,643.7L673.1,644.2L669.2,640.8L665.4,634.0 M690.4,625.4L696.2,627.3L700.0,623.5L698.1,617.7L705.8,619.6L711.5,617.7L721.2,614.8L726.9,616.7L726.0,625.4L728.8,630.2L721.2,629.2L719.2,636.0L724.0,636.9L717.3,640.8L718.3,645.6L711.5,642.7L707.7,645.6L709.6,640.8L701.9,639.8L696.2,636.0L697.1,631.2L690.4,625.4 M706.7,621.5L713.5,619.6L715.4,627.3L710.6,626.3L706.7,621.5 M693.3,650.4L699.0,647.5L706.7,649.4L710.6,647.5L717.3,651.9L714.4,658.1L709.6,650.4L704.8,655.2L700.0,655.8L693.3,652.3L693.3,650.4 M705.0,560.0L707.3,563.8L709.6,568.7L713.5,571.5L712.5,577.3L717.3,579.2L716.3,585.0L721.2,587.9L724.0,593.7L729.8,597.5L733.7,600.4L734.6,605.2L729.8,606.2L730.8,611.0L724.0,610.4L728.8,614.8L733.7,621.5L738.5,627.3L735.6,631.5L736.5,635.0L731.7,635.4L744.2,636.5L755.8,634.0L764.4,632.7L766.3,628.3L763.5,623.5L769.2,617.7L773.1,618.1L774.0,613.8L784.6,612.9L792.3,611.9L800.0,613.8 M713.1,361.0L714.6,368.0L710.8,361.6L704.9,358.9L708.0,374.3L700.9,368.9L694.7,364.7L698.2,376.6L691.4,365.2L690.7,375.4L684.2,369.1L684.5,368.5L682.7,379.2L687.9,382.3L684.5,386.6L680.2,384.7L672.3,382.5L668.1,383.7L665.5,386.8L671.6,396.3L663.3,387.6L667.4,398.9L668.7,396.2L659.2,389.4L663.1,398.5L660.8,407.4L655.2,395.9L652.2,407.7L647.5,407.4L646.9,409.3L643.4,404.4L645.1,413.1L637.3,414.2L637.3,412.9L636.1,418.2L627.6,414.2L625.3,412.1L625.1,421.7L624.5,411.6L626.9,422.6L620.9,417.2L613.8,419.9L610.5,413.0L608.7,422.8L607.2,425.0L607.5,424.1L599.1,422.9L602.9,431.6L599.6,426.3 M713.1,361.0L710.9,362.9L706.1,361.2L699.5,362.6L702.9,368.8L698.0,364.7L689.8,365.9L693.7,372.4L684.5,370.0L687.0,377.1L684.9,372.9L678.7,379.9L678.7,376.9L673.1,382.5L674.1,382.4L674.1,383.7L668.8,381.2L670.8,391.6L662.9,388.4L664.5,396.3L663.2,398.3L654.5,394.1L654.3,394.4L651.1,404.8L651.7,405.1L648.5,399.8L638.1,401.7L641.8,399.8L637.2,414.0L629.3,405.7L633.1,412.7L628.4,414.9L627.8,415.1L617.3,415.7L621.0,419.2L617.3,417.4L614.7,414.9L613.0,420.4L602.0,422.0L598.4,420.3L605.1,426.9L598.7,420.7L599.6,426.3 M666.9,407.1L674.6,401.3L686.2,398.5L693.8,390.8L701.5,384.0L696.7,392.7L703.5,393.7L691.9,403.3L682.3,401.3L674.6,407.1L666.9,407.1 M593.3,428.8L586.4,428.9L583.3,431.4L587.2,441.0L581.7,429.0L578.9,435.6L584.8,446.9L577.9,449.9L572.1,434.6L576.7,448.6L575.0,446.8L562.3,446.9L566.2,454.7L574.3,460.7L559.3,459.2L563.2,461.4L571.5,468.1L560.3,470.3L575.6,473.3L563.0,480.3L577.1,476.3L562.5,481.8L572.5,488.1L567.6,489.4L577.2,495.5L564.0,498.6L579.0,502.3L566.8,508.6L583.3,509.8L579.7,511.4L578.4,517.8L571.0,516.7L578.3,518.0L566.7,522.1L567.8,529.1L581.2,529.7L578.5,531.9L571.2,527.3L581.9,540.6L564.6,536.6L571.7,540.8 M593.3,428.8L593.8,430.1L590.0,436.7L586.2,438.8L584.9,440.5L575.5,440.3L575.4,436.9L571.1,447.9L567.9,450.5L562.9,452.8L566.7,452.8L567.1,458.3L568.8,467.4L570.4,466.2L564.0,470.7L570.6,475.0L571.0,481.2L565.0,477.9L568.5,480.9L562.8,488.8L572.3,487.2L573.6,495.3L575.6,497.9L574.7,498.9L565.5,503.0L567.0,507.3L578.2,509.6L572.8,518.4L571.2,523.6L574.7,523.2L573.4,524.6L578.0,532.0L578.1,535.1L571.3,531.6L573.1,545.1L571.7,540.8 M593.3,428.8L592.7,437.5L585.4,429.7L589.5,439.8L589.9,441.4L576.7,434.6L579.9,449.3L577.6,439.3L573.8,437.4L575.0,446.7L565.0,447.8L575.1,451.2L569.8,450.7L559.5,454.3L570.6,456.1L565.0,461.6L574.7,461.2L561.8,462.3L560.3,468.5L569.6,468.0L563.8,472.8L573.4,479.0L575.2,476.5L567.6,484.2L575.4,483.4L563.7,486.0L577.2,488.0L576.1,494.9L576.0,497.1L569.1,501.2L580.6,502.5L578.0,504.4L570.3,503.9L580.3,505.8L577.8,510.6L576.4,515.1L581.3,514.9L571.2,519.5L570.5,527.5L585.7,527.6L578.7,526.7L570.5,532.5L578.8,539.4L579.5,537.5L580.7,542.0L567.3,538.4L571.7,540.8 M572.1,451.0L582.7,450.5L593.3,451.0L602.4,450.2L594.2,452.9L586.5,453.4L581.7,452.9 M588.5,429.8L600.0,431.7L605.8,437.5L614.4,438.9L606.7,439.4L604.8,442.8L609.6,443.3L602.4,443.8 M569.2,473.1L577.9,470.2L585.6,469.7L590.4,472.1L595.2,471.2L595.2,467.8L597.1,471.2L603.8,472.1L609.6,468.8L612.5,464.4L617.8,461.5L613.5,467.3L620.7,468.8L615.4,471.2L609.6,473.1L607.7,479.8L605.8,475.0L602.4,477.9L604.8,473.1L596.2,473.6L592.3,476.0L589.4,473.1L582.7,472.1 M578.8,501.0L586.5,494.2L595.2,491.3L604.8,488.0L608.2,490.4L601.0,491.3L597.1,496.2L595.2,502.9L598.1,494.2L590.4,496.2L583.7,501.9L581.7,507.7L590.4,501.0 M581.7,511.5L591.3,509.6L586.5,513.5L596.2,517.8L588.5,518.8L596.2,524.0L587.5,525.0L581.7,521.2L597.1,531.7L586.5,533.7L589.4,537.5L581.7,534.6L573.6,532.7L572.1,537.5 M571.7,540.8L572.5,542.0L572.9,539.9L573.4,541.1L573.6,542.9L573.5,543.4L575.2,543.7L575.6,546.5L576.5,547.2L577.3,545.5L578.1,546.5L579.2,548.4L579.0,548.8L578.7,548.6L577.2,549.1L578.5,549.7L580.7,550.3L581.1,550.2L582.4,550.4L584.2,552.3L584.5,552.4L584.1,550.9L585.8,551.9L588.4,553.7L588.5,554.1L588.9,554.6L590.6,555.6L591.9,555.5L591.7,554.0L593.4,555.0L595.0,556.5L595.1,556.8L595.8,557.1L597.2,555.8L598.7,554.2L599.7,557.1L601.5,558.1L603.7,559.3L606.3,561.9L609.7,561.7L612.2,561.6L612.2,561.9L611.9,559.8L613.6,560.2L616.3,561.4L616.4,561.9L616.9,561.9L618.3,561.5L616.3,560.2L617.4,560.3L619.9,560.6L620.4,560.9L620.2,560.9L622.3,561.7L623.8,561.0L623.8,560.2L623.3,560.0L624.4,560.2L626.5,559.0L626.8,556.4L628.5,555.2L630.0,555.9L632.3,557.1L634.2,556.2L637.0,554.5L638.7,553.2L640.0,551.3L642.7,549.4L644.8,547.5L644.9,547.3L643.0,546.6L644.1,545.3L646.2,543.6L646.6,543.8L646.7,543.7L647.3,543.4L649.3,544.0L650.4,543.3L651.4,542.1L650.9,542.0L651.5,541.7L652.3,540.0L653.8,537.4L655.4,536.0L659.2,536.9L660.4,534.2L661.3,531.5L663.1,530.2L665.7,531.6L666.9,534.0L669.0,533.4L669.9,532.0L671.1,532.1L672.0,531.6L671.5,532.1L671.5,532.1L672.0,531.6L672.0,531.0L671.6,530.9L672.7,530.2L675.6,529.3L678.5,527.3L679.3,525.5L680.3,525.0L679.7,523.8L680.7,524.9L681.3,524.6L681.4,523.7L681.0,523.1L680.5,523.3L681.3,521.5L678.6,519.6L676.5,517.7L678.8,517.9L682.3,518.7L682.4,517.7L684.7,518.1L684.5,516.2L683.4,515.2L682.8,515.1L683.4,514.7L683.3,511.9L682.3,509.0L684.1,508.7L687.1,507.7L686.9,510.7L686.2,513.8L685.3,517.0L683.3,519.6L684.9,521.7L687.0,523.8L688.1,525.4L688.7,525.8L686.8,526.0L688.4,526.7L690.9,527.6L691.3,527.6L691.1,528.3L693.8,529.2L697.7,530.2L696.9,533.1L696.4,534.6L695.8,536.9L696.6,538.6L697.5,539.5L697.1,540.3L697.5,540.9L697.0,540.6L697.0,540.6L697.9,541.5L699.1,542.3L699.2,542.0L699.6,542.7L700.0,545.6L698.7,547.4L698.7,549.4 M698.7,549.4L700.6,549.9L701.4,550.3L703.5,549.4L705.3,550.2L706.8,550.1L706.7,550.7L706.2,549.1L706.9,548.9L706.0,548.8L705.9,548.5L707.0,549.3L709.2,551.1L709.4,551.7L710.3,550.9L711.2,552.3L711.0,552.9L712.0,554.8L711.7,555.1L710.9,555.4L710.6,555.0L710.0,555.8L710.6,556.8L710.1,557.6L707.1,557.7L707.6,558.2L708.9,559.9L709.6,559.8L709.9,560.1L709.2,561.9L709.5,564.0L708.6,565.0L707.9,566.3L707.3,567.7L709.2,568.7L710.1,570.2L712.1,570.6L713.1,572.2L713.3,573.8L714.2,575.3L714.0,577.3L714.4,578.0L713.1,578.8L712.6,579.8L712.8,579.1L711.7,579.8L713.0,580.9L714.5,580.0L715.1,579.5L714.8,578.9L716.0,578.6L716.4,579.3L716.4,578.6L716.5,578.5L716.9,580.0L716.6,581.4L716.1,581.5L715.9,581.0L717.8,578.6L717.7,579.8L717.0,581.7L716.5,582.3L716.9,583.1L717.5,583.9L715.9,584.6L716.5,584.9L717.9,585.2L718.3,585.0L718.2,586.8L720.0,587.1L720.7,588.2L721.7,589.8L722.3,591.7L724.6,591.8L725.8,593.4L726.5,594.6L727.4,595.9L728.8,596.9L730.1,598.1L730.4,599.4L732.4,599.0L733.9,600.7L735.2,601.3L734.7,603.2L733.9,604.7L731.9,605.2L732.3,607.1L732.4,609.2L731.3,610.0 M723.7,535.0L729.4,531.2L738.1,530.2L740.0,523.5L749.6,522.5L760.2,524.4L761.2,531.2L755.4,536.9L752.5,541.7L743.8,544.6L741.0,547.5L733.3,543.7L726.5,552.3L720.8,551.3L727.5,544.6L723.7,535.0 M778.5,536.9L779.4,546.5L773.7,552.3L766.9,560.0L762.1,568.7L760.2,563.8L764.0,554.2L770.8,544.6L778.5,536.9 M713.1,361.0L710.9,353.8L720.9,357.0L712.6,350.3L711.5,349.2L725.9,349.2L713.8,339.5L721.8,346.0L725.6,345.5L718.9,338.9L730.6,338.7L723.3,331.0L727.8,333.9L738.9,331.4L728.1,328.8L735.4,325.0L726.5,321.5L737.7,327.1L743.1,323.1L736.0,317.2L743.8,316.4L738.6,306.4L735.7,307.8L746.0,305.0L740.7,300.9L749.5,308.9L743.9,296.6L750.3,293.8L753.7,293.6L759.3,299.2L757.7,287.9L760.1,289.9L762.6,296.8L760.1,286.8L765.8,286.7L770.0,285.7L766.3,282.3L776.4,286.5L782.5,281.7L773.5,270.3L776.9,276.9 M713.1,361.0L709.7,354.1L711.6,354.2L717.3,351.8L717.3,343.8L722.3,341.0L718.6,336.7L720.3,333.8L723.6,330.8L727.6,336.4L723.5,327.7L730.0,324.8L732.4,326.4L733.3,322.9L739.9,320.3L733.4,314.5L737.5,314.8L734.9,308.5L744.4,310.0L742.6,301.2L746.6,300.4L752.1,299.1L749.2,293.3L754.9,300.0L761.6,296.0L761.4,284.6L766.0,290.5L763.1,285.5L765.7,281.6L770.7,286.9L769.7,274.7L779.4,280.7L776.9,276.9 M776.9,276.9L769.4,268.1L782.7,273.7L770.9,261.4L784.8,265.0L790.8,267.7L773.3,253.2L774.7,254.5L797.4,261.5L774.7,246.6L803.1,249.3L780.8,245.3L799.3,248.1L784.7,230.6L794.8,236.3L798.9,236.4L808.6,226.2L804.9,242.0L809.9,249.1L813.3,232.2L823.6,246.2L810.0,225.2L824.0,237.7L813.2,223.4L830.3,230.6L821.0,222.8L818.6,215.7L835.8,225.5L836.8,216.9L829.3,206.2L849.2,223.8L847.8,211.8L839.3,221.8L856.1,211.7L848.1,219.2 M776.9,276.9L772.5,267.5L771.3,269.5L789.5,265.1L780.3,261.9L782.2,259.0L798.6,254.2L785.5,245.1L786.7,245.8L795.7,243.4L794.4,234.0L799.7,236.8L804.5,236.1L799.5,242.4L807.9,243.9L814.3,234.1L808.5,243.5L812.6,230.0L823.0,242.0L820.6,231.5L819.1,224.5L826.8,223.9L841.8,226.5L833.2,218.0L846.4,225.1L835.5,215.5L836.3,226.2L854.0,217.3L848.1,219.2 M776.9,276.9L777.1,271.8L783.4,279.3L782.3,271.4L787.8,279.0L794.0,275.9L790.1,269.4L794.5,272.3L803.3,272.7L797.3,266.6L804.9,262.6L809.7,269.5L809.9,265.0L811.7,255.7L818.8,261.3L816.0,253.3L821.7,256.5L821.2,248.0L827.7,254.8L824.5,252.9L826.4,249.3L830.7,251.1L837.3,247.1L838.5,246.8L835.7,238.9L841.7,238.8L844.0,242.1L837.5,236.8L849.1,236.0L838.6,228.1L849.1,231.3L841.7,222.1L851.4,222.8L846.6,216.7L848.1,219.2 M848.1,219.2L851.5,213.2L851.8,214.0L859.8,219.8L857.3,212.7L866.9,218.4L862.7,208.5L869.3,206.8L874.9,216.1L874.0,215.9L878.0,209.8L877.6,209.1L879.5,212.9L888.2,212.1L888.6,208.6L888.1,202.6L893.4,207.6L890.9,200.4L896.9,203.7L897.3,199.6L901.1,206.8L905.9,205.0L901.6,199.9L911.3,207.8L912.0,198.3L913.1,206.6L915.2,197.7L922.6,202.4L917.0,192.8L921.4,195.8L922.5,191.7L923.9,188.3L932.2,194.2L930.5,192.9L933.4,188.6L937.4,198.7L942.7,188.2L943.0,196.0L949.2,186.4L953.2,187.8L950.9,199.7L956.9,188.8L958.3,189.2L960.1,188.3L963.5,193.7L961.3,187.5L970.9,188.5L968.8,179.2L971.2,180.8L973.2,188.6L979.0,181.2L981.1,185.4L980.0,189.4 M848.1,219.2L850.3,217.3L856.6,221.6L853.1,216.2L859.7,220.5L867.7,213.6L872.2,211.5L869.7,216.4L873.3,209.8L878.2,213.8L881.7,209.1L885.1,214.1L891.7,204.1L891.8,207.6L897.5,204.7L900.8,202.0L898.7,209.4L905.7,207.9L906.3,202.7L909.2,206.9L913.4,200.8L915.2,200.8L924.5,199.2L922.5,199.0L921.1,194.2L932.1,196.8L934.1,189.4L935.7,190.1L934.5,195.2L938.6,188.7L941.1,195.0L950.4,191.6L950.5,196.9L959.4,198.3L959.4,191.9L964.3,193.3L969.0,185.8L968.2,188.4L974.5,181.4L976.8,185.6L976.5,191.3L980.0,189.4 M876.9,400.0L884.6,397.1L894.2,394.2L901.9,396.2L907.7,386.5L913.5,379.8L924.0,374.0L919.2,367.3L911.5,362.5L917.3,360.6L919.2,355.8L924.0,350.0L917.3,347.1L926.9,344.2L932.7,340.4L940.4,337.5L939.4,331.7L947.1,329.8L955.8,335.6L961.5,331.7L969.2,332.7L980.0,330.8 M940.4,400.0L948.1,394.2L951.9,395.2L957.7,389.4L962.5,388.5L967.3,383.7L971.2,381.7L975.0,376.9L979.8,375.4L980.0,373.1 M887.1,401.0L885.5,402.5L882.4,402.5L880.4,403.8L877.4,404.8L875.8,405.7L872.7,406.7L870.9,408.5L870.4,408.3L871.3,408.7L872.1,408.2L871.7,408.9L872.1,409.1L870.5,409.7L867.7,410.5L867.3,410.3L866.9,410.6L865.7,410.4L866.1,411.6L864.5,411.1L862.5,410.1L862.4,409.8L861.2,409.6L859.3,411.1L857.9,414.2L856.3,416.3L854.8,418.4L851.5,419.2L848.3,420.3L845.8,421.2L843.7,419.8L841.0,418.3L841.1,418.9L843.4,419.4L843.6,421.8L842.7,422.9L842.1,422.8L841.6,423.9L842.9,426.0L842.5,426.4L842.6,425.2L841.8,425.9L842.6,424.8L842.6,424.2L841.4,425.8L839.5,428.9L839.4,429.4L838.5,429.5L837.1,431.7L833.7,431.9L831.3,432.7L832.6,434.2L833.5,437.0L834.2,439.4L834.0,440.2L834.9,440.9L834.5,439.7L835.2,441.1L835.7,441.5L834.8,442.7L833.5,443.3L833.0,443.0L831.9,444.0L832.6,444.3L834.1,444.8L834.5,443.5L834.4,445.0L834.7,445.1L833.8,446.6L832.1,447.7L831.5,447.5L831.3,448.1L832.3,451.2L832.8,453.6L833.3,455.8L830.0,455.8L827.8,457.4L825.6,457.7L826.0,459.3L824.0,458.4L824.5,459.1L826.0,461.0L826.5,461.2L826.3,462.3L827.5,465.4L826.9,467.0L827.4,470.0L827.2,472.2L826.5,475.0L827.8,476.8L830.6,477.4L831.3,479.8L830.7,480.9L832.5,480.6L831.2,482.1L829.6,483.5L829.1,483.5L828.5,484.6L831.1,485.5L831.3,485.7L831.3,487.0L833.0,487.5L835.3,487.7L835.3,487.3L836.2,487.2L838.1,488.5L840.5,487.8L842.5,487.4L845.8,487.5L846.6,488.5L845.2,488.4L846.0,489.0L847.4,489.8L847.8,489.9L849.2,490.3L849.9,493.2L851.5,494.2L853.8,495.6L855.0,496.3L857.3,497.1L858.8,500.0L860.2,501.9L862.6,503.3L862.5,503.9L862.7,501.2L864.2,503.0L865.6,505.7L865.6,506.4L866.0,506.7L866.4,507.4L865.6,507.3L866.2,506.4L865.3,507.3L864.7,507.3L866.1,509.0L868.0,510.8L868.4,510.9L868.8,511.5L866.5,512.2L863.1,513.5L861.8,513.9L860.7,512.8L860.0,512.6L860.4,512.5L860.2,512.4L859.6,513.1L858.8,514.5L859.2,514.9L858.1,516.2L855.4,516.3L852.1,517.6L850.8,519.2L847.7,520.2L850.4,521.4L853.0,522.0L855.4,522.1L857.2,524.0L859.2,526.0L858.8,526.2L858.5,527.5L856.9,528.1L855.7,528.0L855.8,527.7L855.2,527.2L853.5,528.8L852.3,529.3L853.1,531.9L851.8,531.8L849.7,531.0L849.5,530.3L850.1,530.1L849.7,528.9L850.4,528.7L849.6,528.6L849.3,527.7L847.3,529.0L846.4,530.8L846.6,531.4L845.8,531.7L845.0,533.1L842.6,534.1L842.8,534.4L843.4,535.1L844.0,534.9L843.9,536.0L841.9,538.5L841.0,536.0L839.9,535.4L840.0,534.0L840.6,533.1L840.0,533.7L840.0,533.6L839.6,533.4L838.9,533.4L838.8,533.8L838.1,532.7L837.8,531.3L838.5,531.8L838.4,531.1L838.8,532.1L839.0,532.3L838.5,530.5L837.6,528.6L837.3,528.3L837.1,526.9L838.9,527.1L841.1,525.6L843.8,525.0L842.2,524.9L838.9,524.2L838.9,523.9L837.1,524.9L835.8,524.3L835.4,523.5L835.9,523.2L835.2,523.1L832.6,523.1L832.3,523.9L834.3,525.0L832.7,525.1L829.5,525.1L829.1,524.8L828.5,525.0L827.0,523.0L825.2,521.8L823.0,520.7L820.8,519.2L818.3,518.5L815.1,517.7L813.1,516.3L810.0,517.6L808.3,520.2L805.7,519.7L802.5,520.2L804.7,520.0L806.1,521.1L808.9,521.1L811.2,522.1L813.9,521.3L816.1,521.2L818.8,520.2L820.3,521.6L823.0,522.3L824.0,523.0L824.3,521.8L823.7,521.4L824.4,521.4L824.4,521.1L825.9,522.3L826.8,524.1L826.7,524.6L827.5,525.0L828.3,525.4L826.5,526.1L825.8,525.8L826.1,526.2L826.0,526.3L828.1,526.8L831.2,527.2L831.8,526.9L830.8,526.5L829.0,527.5L829.9,527.9L828.7,527.7L828.4,527.9L830.4,528.3L833.9,528.5L834.5,528.2L835.2,528.5L836.2,530.7L835.1,533.1L836.2,535.6L835.6,535.9L835.1,537.4L834.1,536.8L835.0,537.8L834.9,538.1L833.3,538.8L832.7,538.1L832.9,537.6L832.6,538.5L830.4,538.8L828.5,540.4L827.5,540.8L827.0,540.3L827.8,540.0L826.8,540.0L826.5,539.8L825.4,540.5L824.7,541.7L824.9,541.9L826.0,541.4L825.5,539.3L823.3,540.7L821.8,542.6L821.9,543.2L821.7,543.3L820.0,543.3L818.8,544.1L816.6,543.0L816.0,543.5L815.1,544.7L815.7,545.0L815.0,545.2L813.1,544.9L812.9,544.9L813.6,547.2L811.5,546.4L808.6,544.8L808.5,544.2L808.0,543.7L806.3,543.8L809.3,544.4L812.2,544.8L814.2,545.9L815.6,546.3L815.9,547.1L815.0,547.3L816.0,547.5L816.2,548.2L817.0,548.1L817.3,547.1L817.1,546.7L818.8,547.1L818.9,549.8L817.7,551.1L816.9,553.8L818.1,555.3L817.7,559.1L818.8,560.6L818.5,560.8L818.3,558.9L817.0,560.5L815.3,563.0L815.3,563.5L815.3,563.6L813.1,565.4L814.8,567.8L815.5,569.9L817.9,571.2L817.1,572.0L817.2,570.2L817.9,569.4L817.2,569.9L817.3,569.6L816.3,571.2L815.5,573.5L815.4,574.1L814.7,575.3L813.1,576.9L814.5,579.1L815.6,581.5L816.9,582.7L814.9,583.8L814.4,585.7L813.5,585.8L813.2,585.4L813.1,585.9L812.8,585.9L812.5,586.7L812.6,587.4L813.0,587.4L812.1,588.5L812.4,588.9L813.1,589.3L812.6,588.3L813.5,589.5L814.0,589.7L814.5,591.2L814.2,592.0L813.8,591.8L813.6,592.2L815.0,594.2L813.4,596.8L811.3,598.3L810.2,600.0L807.8,600.9L805.4,601.9L804.5,604.3L804.3,604.1L801.9,604.1L801.8,605.3L802.0,607.4L802.6,607.4L802.5,607.7L801.5,610.8L799.8,612.3L798.7,614.4L795.9,614.3L794.4,613.4L794.2,613.4L794.6,614.6L792.3,613.9L790.2,612.8L790.1,612.5L790.0,612.5 M826.5,579.8L821.7,590.4L816.0,601.9L810.2,612.5L809.2,600.0L816.9,590.4L826.5,579.8 M863.1,564.4L866.9,563.8L869.8,567.3L866.9,571.2L864.0,572.1L866.0,578.8L861.2,581.7L855.4,586.5L853.5,590.4L848.7,592.3L851.5,587.5L848.7,583.7L847.7,576.0L853.5,572.1L858.3,567.3L863.1,564.4 M942.9,401.9L942.0,402.8L940.4,401.1L939.8,402.4L940.2,403.8L940.6,404.2L939.9,404.6L938.1,406.7L936.7,407.4L935.0,408.7L932.3,408.7L929.6,407.8L927.7,408.2L924.6,408.1L924.5,410.2L923.4,412.8L922.7,415.4L921.6,417.4L918.9,417.9L916.9,419.2L914.4,420.9L913.1,423.1L913.8,426.4L913.1,428.8L914.0,430.9L915.5,432.7L917.1,433.6L917.9,435.6L917.4,438.1L916.9,440.4L918.7,442.1L919.7,443.7L920.8,446.2L922.0,448.0L922.2,449.3L922.6,448.3L922.1,449.5L922.8,447.9L923.3,446.8L923.8,449.0L923.5,451.0L923.2,451.7L923.2,451.5L925.0,450.7L924.6,451.6L925.3,450.5L925.6,450.4L925.8,452.1L924.8,453.5L924.1,453.8L924.6,454.8L925.8,456.5L926.9,458.7L927.5,461.5L926.6,462.3L926.9,459.9L926.5,460.6L925.3,462.8L925.2,463.4L925.7,462.9L925.7,461.5L924.1,463.1L922.8,464.9L922.8,465.3L922.7,465.4L923.5,467.7L923.8,469.6L924.6,471.2L924.0,471.4L926.8,471.9L924.5,472.7L922.0,472.9L921.3,472.8L921.1,473.8L918.8,474.0L918.3,476.3L916.0,478.8L917.1,479.4L915.8,479.7L917.4,480.5L915.4,479.8L914.6,480.0L916.3,480.5L918.0,480.3L918.7,480.2L920.5,480.1L921.7,481.7L921.6,483.7L923.3,485.3L922.7,487.5L924.7,487.7L926.5,489.0L928.5,488.5L931.0,489.6L932.0,491.5L934.2,492.3L936.6,492.4L938.4,494.0L939.0,494.7L936.8,496.6L937.8,496.4L940.5,496.2L941.0,495.7L941.9,496.2L941.9,496.2L942.8,494.0L945.0,493.6L946.0,494.3L945.8,494.9L945.9,495.2L947.7,494.2L949.3,495.9L949.3,496.7L948.7,499.0L949.6,499.7L951.0,500.1L951.2,499.5L951.5,500.0L953.3,497.9L953.7,497.9L954.1,498.7L954.7,499.4L954.2,499.1L954.4,499.4L955.3,498.0L956.0,496.1L955.8,495.7L956.3,495.2L957.0,497.4L956.2,499.4L957.3,501.9L955.5,503.2L953.5,505.8L952.8,508.5L952.5,510.6L954.8,510.8L957.7,509.2L960.2,508.7L960.5,508.4L959.2,508.1L959.8,507.6L958.9,508.0L958.7,507.9L960.2,507.0L962.8,505.9L963.3,506.0L963.4,505.5L965.6,504.9L966.9,502.9L965.5,504.9L963.1,505.8L965.1,505.5L968.1,505.7L970.8,505.8L973.6,504.8L974.8,504.1L978.1,504.5L979.8,504.9L982.3,503.8L984.1,504.6L986.2,504.8L987.6,502.6L989.8,502.5L991.9,501.0L994.5,500.3L996.4,499.1L999.6,499.0L1002.5,497.8L1003.7,498.5L1002.9,497.9L1004.1,498.0L1002.7,497.6L1001.9,496.9L1002.8,497.2L1005.4,497.9L1005.8,498.3L1007.3,498.1L1008.8,497.1L1010.3,496.6L1011.0,496.9L1010.3,497.2L1011.4,497.0L1011.7,497.1L1012.4,496.5L1012.4,495.8L1012.0,495.7L1013.2,494.4L1015.0,494.2L1017.5,494.6L1020.8,494.2L1023.2,493.3L1025.5,493.4L1025.9,492.3L1025.6,493.4L1026.2,493.7L1025.5,493.8L1025.5,493.9L1026.0,493.4L1027.1,492.2L1027.2,491.8L1028.5,491.3L1030.5,492.1L1032.3,493.3L1034.2,493.2L1036.7,492.1L1038.9,491.7L1040.0,490.4L1043.0,490.4L1045.7,489.2L1047.7,488.8L1048.9,488.8L1048.8,489.9L1049.7,489.9L1048.8,490.3L1048.8,491.1L1050.2,490.6L1051.6,489.2L1051.6,488.6L1052.8,488.7L1055.4,488.5L1058.4,488.3L1060.5,488.7L1063.1,487.5L1064.5,487.4L1065.9,488.1L1067.3,488.3L1066.2,488.3L1066.5,488.5L1066.5,488.2L1066.9,487.4L1066.4,487.2L1067.6,486.4L1070.6,486.7L1072.7,486.5L1074.6,485.1L1076.8,484.6L1078.5,484.6L1080.3,486.4L1082.3,487.5L1081.3,488.1L1080.1,487.1L1079.2,488.0L1078.3,489.5L1078.5,489.8L1077.5,490.4L1079.2,491.9L1081.4,493.2L1084.2,494.2L1086.8,494.5L1088.0,496.6L1090.0,497.1 M1090.0,505.8L1084.2,507.7L1078.5,510.6L1073.7,511.5L1067.9,513.5L1066.0,521.2L1059.2,522.1L1047.7,521.2L1040.0,518.8L1030.4,516.3L1020.8,515.4L1015.0,514.4L1009.2,516.3L1001.5,517.3L995.8,520.2L990.0,519.2L982.3,523.1L976.5,525.0L970.8,526.0L966.0,526.9L966.9,532.7L964.0,534.6L970.8,536.5L966.0,539.4L971.7,542.3L967.9,546.2L970.8,551.0L974.6,551.9L979.4,555.8L984.2,551.9L989.0,552.9L987.1,559.6L984.2,565.4L985.2,573.1L985.8,580.8L983.3,584.6L977.5,589.4L970.8,591.3L965.0,589.4L960.2,585.6L958.3,579.8L953.5,576.0L947.7,572.1L945.8,568.8L938.1,570.2L932.3,572.1L926.5,574.0L921.7,579.8L919.8,584.6L919.2,589.4L913.1,593.3L911.2,600.0L911.0,601.0 M934.2,535.6L941.9,535.6L946.7,531.7L953.5,533.7L955.4,537.5L949.6,540.4L943.8,539.4L941.9,535.6 M928.5,549.0L936.2,548.1L943.8,545.2L953.5,545.2L961.2,548.1L953.5,551.0L945.8,554.8L938.1,556.7L933.3,564.4L936.2,558.7L931.3,555.8L928.5,549.0 M962.1,464.4L968.8,459.6L971.7,452.9L976.5,448.1L970.8,444.2L977.5,441.3L986.2,443.3L991.9,439.4L992.9,443.3L988.1,447.1L991.9,450.0L984.2,448.1L978.5,451.9L974.6,457.7L971.7,463.5L969.8,468.3L962.1,464.4 M1007.3,414.4L1008.1,411.6L1009.8,412.4L1010.0,410.5L1009.1,409.7L1010.1,410.1L1010.2,408.6L1011.8,408.0L1012.6,409.1L1012.5,410.1L1013.1,409.6L1014.2,410.3L1014.4,406.9L1015.3,408.2L1015.9,410.5L1015.8,411.3L1017.1,412.7L1018.4,413.8L1020.8,414.4L1021.3,414.9L1021.6,413.5L1022.9,414.8L1021.7,413.1L1021.9,412.3L1022.9,414.0L1023.8,416.6L1023.6,417.3L1024.5,418.0L1024.8,418.4L1021.8,418.0L1023.5,419.2L1026.1,420.4L1026.9,420.5L1027.5,421.2L1030.0,421.7L1032.1,419.0L1034.2,419.2L1035.5,417.8L1037.1,416.6L1040.0,416.3L1041.3,417.4L1039.5,419.1L1037.9,417.8L1039.2,419.3L1038.7,419.8L1039.4,419.4L1041.9,419.0L1042.5,418.4L1042.4,418.4L1044.7,414.9L1045.7,416.8L1045.9,419.9L1045.3,420.7L1045.8,421.2L1042.8,421.3L1041.9,423.6L1040.0,425.0L1037.4,425.2L1036.2,425.9L1034.6,427.1L1032.3,427.9L1030.7,427.7L1029.2,426.7L1029.7,429.2L1029.2,428.5L1027.8,426.8L1027.7,426.2L1028.3,426.4L1028.3,427.4L1027.3,427.8L1028.2,427.8L1028.2,428.5L1026.2,427.4L1024.8,425.6L1024.8,425.1L1024.6,425.0L1023.5,426.7L1022.3,428.1L1025.1,431.2L1024.2,431.0L1021.9,430.4L1021.2,429.6L1021.1,429.7L1023.5,429.0L1022.8,428.2L1023.8,428.9L1024.4,428.8L1023.0,430.0L1020.3,431.6L1019.5,431.9L1018.8,432.7L1020.3,434.9L1021.0,436.4L1022.7,438.5L1020.2,439.2L1020.5,440.7L1019.9,438.3L1019.3,439.4L1019.0,441.4L1019.2,442.0L1017.3,441.9L1016.9,444.2L1014.5,444.8L1015.0,447.3L1013.1,449.5L1011.2,450.0L1010.0,450.3L1008.0,446.8L1007.9,447.6L1006.7,450.1L1007.2,451.0L1005.5,450.9L1003.5,451.9L1004.1,452.6L1004.7,449.5L1006.3,451.0L1004.8,449.1L1004.9,448.5L1006.2,450.8L1005.9,453.1L1005.7,454.2L1006.3,455.5L1007.9,455.6L1009.2,457.7L1008.6,458.3L1008.8,456.8L1009.7,455.9L1008.9,456.4L1009.0,455.6L1008.1,456.9L1007.1,459.3L1007.0,459.9L1006.3,460.7L1003.7,461.2L1003.5,463.5L1004.7,464.5L1003.1,464.9L1002.2,465.6L1002.7,464.9L1001.6,465.2L1003.5,466.1L1005.3,465.8L1006.1,465.6L1008.0,466.1L1009.2,468.3L1009.8,470.4L1007.7,472.2L1007.3,474.0L1008.7,473.7L1009.7,474.9L1008.5,474.6L1010.0,475.2L1011.2,476.7L1012.3,475.7L1011.6,473.9L1011.0,473.1L1011.6,473.0L1010.3,476.6L1010.8,475.8L1013.0,473.5L1013.3,472.5L1015.0,472.1L1017.1,471.2L1019.2,469.9L1020.8,468.3L1023.2,468.2L1025.6,467.3L1024.6,469.0L1025.8,471.1L1024.6,473.7L1024.6,476.0L1023.9,473.1L1021.3,473.2L1021.6,470.9L1021.2,471.0L1020.3,471.7L1020.2,472.3L1018.8,471.2L1016.7,469.8L1017.4,469.2L1016.6,469.8L1015.6,471.1L1016.2,470.0L1015.5,470.5L1014.9,468.9L1015.0,466.7L1015.4,466.4L1015.7,466.8L1014.9,469.2L1013.6,467.4L1014.7,469.5L1014.4,470.2L1014.2,468.8L1014.4,466.3L1014.7,465.4L1014.0,464.4L1014.0,464.1L1015.0,464.8L1014.9,464.0L1015.3,465.0L1016.1,465.6L1015.4,462.9L1014.1,460.8L1013.6,460.4L1012.4,459.6L1013.5,459.6L1015.2,460.5L1015.4,459.3L1015.6,460.6L1016.6,461.1L1015.8,459.1L1013.9,456.6L1013.1,456.2L1013.1,455.8L1013.9,454.5L1010.9,453.8L1012.2,452.8L1013.9,453.0L1014.7,453.2L1015.1,451.3L1016.0,451.1L1016.4,453.5L1015.6,454.9L1016.5,453.9L1016.8,455.4L1016.8,454.2L1017.6,449.9L1017.4,448.9L1017.9,448.1L1018.6,445.7L1020.4,444.5L1021.6,443.8L1022.4,444.7L1022.9,444.1L1022.7,445.0L1023.1,445.4L1023.7,444.1L1023.3,442.7L1022.9,442.3L1023.7,441.3L1024.1,440.6L1025.6,440.2L1024.9,439.0L1026.0,440.1L1027.3,439.7L1027.0,439.3L1026.4,438.1L1025.6,438.3L1025.0,439.2L1024.8,437.5L1026.0,435.5L1024.8,437.1L1024.6,435.7L1025.4,435.3L1027.0,434.9L1027.1,435.8L1026.1,434.7L1028.5,433.7L1030.8,434.5L1032.6,433.3L1034.2,432.7L1036.1,431.5L1037.1,431.7L1038.5,429.6L1036.3,430.3L1038.7,429.3L1039.4,428.1L1039.7,428.6L1039.6,430.2L1039.0,431.1L1040.0,430.8L1041.4,428.2L1043.8,428.2L1045.8,426.9L1046.8,427.7L1046.9,426.0L1047.8,425.2L1046.9,425.6L1046.9,425.2L1048.3,426.7L1048.6,428.4L1048.6,429.0L1048.5,429.0L1047.9,432.5L1048.5,432.1L1050.6,431.5L1050.7,430.6L1050.4,430.4L1047.9,431.9L1049.4,432.3L1052.0,432.5L1052.7,432.1L1053.5,432.7L1055.9,432.4L1059.0,430.6L1061.2,430.8L1063.1,429.6L1064.9,428.5L1065.5,426.4L1066.9,425.0L1066.6,424.5L1070.2,423.2L1068.3,421.6L1065.6,421.3L1064.7,421.6L1065.3,420.7L1063.1,419.2L1064.3,417.1L1067.3,417.6L1068.8,416.3L1066.4,416.1L1064.1,415.0L1061.6,414.3L1059.2,415.4L1056.4,414.9L1054.0,413.3L1052.6,413.5L1049.6,412.5L1049.5,410.7L1047.8,407.7L1047.7,405.8L1046.6,404.7L1045.7,403.7L1045.3,405.2L1046.1,406.0L1045.3,405.6L1045.2,405.9L1044.5,404.6L1043.9,402.6L1044.0,402.0L1042.6,402.6L1041.9,400.0 M1047.7,457.7L1050.6,458.0L1051.5,455.8L1051.7,455.7L1052.8,456.7L1051.9,456.3L1053.1,457.0L1053.1,457.0L1054.4,455.9L1055.5,454.3L1055.2,453.9L1055.4,453.8L1056.4,453.6L1057.0,450.6L1058.2,450.9L1059.6,452.1L1059.5,452.8L1060.5,452.2L1063.1,451.9L1065.1,449.9L1068.0,450.0L1068.9,449.6L1069.7,451.2L1071.2,450.6L1069.8,451.6L1070.2,452.5L1070.8,451.6L1072.0,449.2L1071.7,448.5L1072.7,448.1L1075.1,449.1L1075.0,449.3L1076.9,448.4L1077.8,449.2L1078.5,450.5L1078.0,450.7L1078.1,452.2L1080.4,451.9L1079.5,453.2L1081.3,453.9L1080.5,454.5L1079.2,454.6L1078.7,454.4L1076.9,455.4L1076.5,457.7L1078.7,459.1L1081.3,458.2L1084.2,459.6L1085.5,458.8L1085.1,462.5L1085.4,461.7L1086.8,458.8L1086.8,457.9L1088.2,457.8L1090.0,455.8L1088.6,457.9L1085.9,458.2L1084.5,459.7L1084.7,461.1L1083.4,461.1L1084.0,461.6L1083.0,461.1L1082.2,461.1L1081.2,462.6L1081.9,463.3L1082.5,463.3L1082.4,464.1L1080.4,465.4L1078.2,465.7L1074.4,465.9L1072.7,467.3L1070.7,469.5L1069.1,468.7L1066.5,469.1L1065.0,471.2L1063.5,469.1L1060.3,469.3L1059.2,467.3L1058.0,467.2L1059.5,466.3L1058.3,466.1L1059.8,466.1L1060.2,465.9L1057.9,465.9L1055.9,466.5L1055.4,466.8L1054.2,466.9L1051.5,466.3L1050.8,464.4L1050.0,462.8L1047.9,461.7L1046.9,459.4L1047.6,461.5L1046.8,461.0L1047.5,461.4L1048.5,460.7L1049.3,461.2L1049.3,461.3L1047.8,460.5L1047.4,461.3L1047.5,460.3L1047.3,460.1L1047.0,458.8L1047.5,458.1L1048.0,458.4L1047.7,457.7 M1059.2,438.5L1060.9,440.5L1062.4,439.7L1064.8,439.1L1065.7,438.7L1065.2,439.0L1065.5,438.9L1065.9,439.5L1066.5,440.9L1065.7,441.1L1065.4,440.9L1063.7,443.8L1064.4,443.4L1067.1,442.5L1067.5,441.8L1068.8,442.3L1070.6,443.8L1073.4,444.0L1076.7,443.9L1078.5,445.2L1078.7,445.1L1079.8,442.9L1077.7,441.9L1080.0,442.6L1080.3,442.0L1082.1,441.5L1082.5,442.6L1082.1,443.4L1081.7,442.8L1083.9,442.2L1086.2,441.3L1087.0,441.6L1085.9,439.8L1087.0,440.4L1088.9,441.7L1089.2,442.1L1090.0,442.3L1089.5,442.0L1090.1,441.0L1088.9,440.3L1090.3,440.6L1090.8,439.8L1088.5,439.2L1086.5,439.8L1086.2,440.4L1087.1,440.9L1086.6,439.6L1087.2,439.3L1086.5,439.2L1086.5,439.1L1084.9,438.6L1084.0,438.9L1084.1,439.4L1083.4,439.0L1081.1,438.7L1079.1,435.8L1078.2,436.4L1080.3,436.1L1078.9,435.4L1080.6,436.0L1081.9,435.8L1079.4,435.1L1076.3,434.8L1075.4,435.0L1074.6,434.6L1073.0,433.4L1070.3,433.5L1069.2,434.1L1070.3,435.3L1071.7,435.2L1070.5,435.6L1071.6,436.9L1070.2,436.3L1066.2,434.4L1065.6,433.7L1065.0,433.7L1063.0,434.4L1062.2,436.0L1063.5,437.6L1061.9,438.9L1063.7,437.9L1064.0,438.4L1062.7,438.7L1060.5,438.4L1060.1,437.8L1059.2,438.5 M1041.9,537.5L1047.7,533.7L1056.3,532.7L1059.2,538.5L1061.2,548.1L1057.3,552.9L1054.4,556.7L1058.3,559.6L1063.1,557.7L1066.9,560.6L1066.9,565.4L1062.1,565.4L1057.3,561.5L1052.5,553.8L1048.7,549.0L1047.7,543.3L1041.9,537.5 M838.1,523.1L839.9,520.1L844.4,521.5L845.4,521.6L847.4,526.4L850.6,523.0L853.3,525.4L855.9,519.9L855.2,522.4L856.5,522.3L858.1,516.9L863.0,518.1L862.6,514.6L863.1,515.4 M924.6,490.4L929.2,490.4L925.6,492.3L929.0,491.7L931.9,497.4L935.9,494.1L937.4,497.8L937.0,493.9L939.7,494.2L939.7,500.4L947.0,501.7L946.8,498.3L949.6,504.4L953.0,502.9L952.1,504.5L955.3,506.7L955.4,505.8 M1011.2,411.5L1012.7,409.4L1011.8,413.8L1016.9,414.6L1022.0,415.7L1019.6,423.5L1026.2,419.5L1024.1,425.7L1027.1,424.8L1020.2,424.7L1026.3,430.5L1017.9,433.9L1018.0,436.6L1019.4,438.8L1021.3,445.0L1017.1,438.6L1019.9,445.5L1013.4,443.3L1015.4,449.5L1013.3,448.6L1009.9,453.2L1009.1,453.9L1012.9,462.7L1012.1,462.8L1006.8,463.3L1011.7,468.6L1004.2,468.4L1007.3,469.2 M1030.4,419.2L1033.7,419.0L1036.1,418.2L1035.2,423.1L1043.3,419.4L1046.7,419.0L1047.3,426.1L1049.3,419.6L1047.3,424.7L1050.3,423.9L1057.2,423.8L1055.8,426.9L1061.9,426.1L1063.5,425.6L1061.2,423.9L1066.7,422.8L1066.1,423.5L1069.4,417.6L1068.8,419.2 M1051.5,461.5L1053.1,459.3L1056.0,462.3L1055.3,458.7L1063.4,459.6L1064.4,455.7L1063.7,458.5L1070.0,458.6L1070.3,455.3L1073.2,456.9L1076.6,458.8L1075.2,454.7L1077.4,458.0L1080.9,460.5L1084.4,458.1L1084.6,461.2L1086.5,458.6L1086.2,461.5 M800.0,667.7L805.0,666.3L813.7,658.1L824.2,655.4L835.8,652.3L845.4,650.0L853.1,650.4L858.8,653.5L863.7,656.7L856.0,652.9L855.0,655.8L857.9,661.5L862.7,663.8L872.3,663.5L876.2,666.9L881.9,662.5L889.6,656.7L898.3,654.8L889.6,655.4L886.7,651.9L888.1,647.7L899.2,646.7L906.9,640.4L913.7,632.3L912.7,619.2L911.2,607.7L911.2,600.0 M880.0,661.2L889.6,653.8L899.2,647.1L906.9,641.3L914.6,632.7L916.9,637.5L915.6,641.3L916.9,646.2L911.7,648.5L905.0,647.1L899.2,646.7 M580.0,957.9L585.8,958.8L591.5,956.0L598.3,954.0L599.2,950.2L605.0,946.3L608.8,942.5L614.6,941.2L620.4,939.2L628.1,937.3L634.8,930.0L639.6,925.2L643.5,923.8L653.1,926.2L660.8,930.0L667.5,933.8L674.2,935.4L677.1,943.5L680.0,949.2L682.9,954.0L681.9,960.8L686.7,961.7L687.7,965.6L693.5,970.4L696.3,974.2L703.1,975.8L707.9,981.0L712.7,985.8L717.5,987.7L722.3,992.5L728.1,997.3L734.8,1000.2 M717.5,899.2L722.3,896.3L728.1,895.0L733.8,892.5L739.6,890.0L745.4,891.2L749.2,889.6L754.0,893.5L749.2,895.4L747.3,899.2L750.2,905.0L752.1,909.8L756.9,915.6L759.8,907.9L762.7,905.0L765.6,900.8L771.3,903.1L776.2,906.9L779.0,914.6L781.0,921.3L787.7,926.2L793.5,931.0L782.9,928.1L788.7,933.8L797.3,940.6L801.2,947.3L807.9,948.3L810.8,945.8L820.4,949.2L828.1,954.0L836.7,960.8L824.2,959.8L839.6,965.6L848.3,969.4 M717.5,899.2L719.4,904.0L723.3,906.0L722.3,909.8L725.2,910.8L723.3,914.6L719.4,915.6L721.3,924.2L724.2,931.0L731.9,936.7L741.5,941.5L750.2,946.3L753.1,954.0L756.9,964.6L764.6,973.3L772.3,980.0L775.2,982.9L786.7,986.7L787.7,988.7L795.4,987.3L806.0,987.3L804.0,991.5L799.2,994.4L801.2,998.3L808.8,1001.2 M657.9,958.8L658.8,967.5L660.8,981.9L657.9,988.7L656.9,994.4L654.0,1000.2L649.2,998.3L644.4,994.4L646.3,991.5L641.5,988.7L644.4,985.8L639.6,982.9L642.5,980.0L638.7,976.2L641.5,971.3L646.3,969.4L655.0,967.5L656.9,959.8L657.9,958.8 M653.0,1003.1L659.5,1005.7L661.7,1011.8L664.9,1016.2L667.1,1021.6L662.8,1029.2L664.9,1032.5L663.9,1044.5L661.7,1055.4L657.3,1054.3L649.0,1052.1L650.3,1057.6L645.3,1061.9L641.0,1059.7L638.8,1055.4L634.4,1057.6L636.6,1051.0L635.5,1044.5L638.8,1040.1L636.6,1034.7L637.7,1028.1L634.4,1020.5L630.1,1019.4L630.7,1011.4L638.8,1013.5L646.4,1007.9L653.0,1003.1 M734.7,1000.9L738.0,1004.2L744.5,1002.6L751.5,1004.2L756.5,1009.6L759.8,1014.4L765.2,1012.9L768.0,1016.2L766.3,1020.1L775.0,1017.9L779.8,1024.4L778.3,1028.8L783.7,1030.3L788.1,1034.2L794.2,1032.5L796.8,1038.0L801.2,1048.8L806.6,1061.9L804.4,1065.2L797.9,1067.4L800.1,1071.7L797.9,1076.1L793.5,1077.2L793.5,1082.6L796.8,1085.2L803.3,1084.8L807.7,1078.3L814.2,1072.8L813.2,1066.3L816.4,1061.9L824.1,1059.7L827.3,1060.8L828.4,1057.6L826.2,1054.3L827.3,1048.8L820.8,1044.5L813.2,1041.9L815.3,1035.8L814.2,1032.5L818.6,1026.0L824.1,1022.7L827.3,1021.6L829.5,1023.8L836.0,1026.6L842.6,1027.1L846.9,1035.8L853.5,1039.7L856.7,1032.5L857.4,1029.2L851.3,1023.8L846.5,1020.5L845.9,1017.9L833.9,1012.9L823.0,1006.3L809.9,1000.9 M793.5,1076.5L785.9,1077.2L780.5,1079.4L777.2,1078.3L766.3,1081.5L759.8,1082.6L752.1,1083.3L746.7,1079.4L743.4,1077.2L739.0,1078.3L735.8,1081.5L731.0,1078.3L724.9,1082.6L723.8,1087.0L728.8,1092.4L734.7,1093.5L742.3,1097.9L752.1,1103.3L763.0,1106.0L769.6,1113.1L782.6,1115.3L781.6,1111.0L787.7,1107.7L783.7,1101.2L781.6,1096.8L787.0,1088.1L793.5,1076.5 M530.0,1111.4L537.4,1108.8L548.3,1108.8L557.1,1109.4L563.6,1112.1L564.7,1114.7L569.0,1115.8L576.7,1111.0L587.6,1108.8L589.7,1105.5L593.0,1104.9L598.5,1107.7L603.9,1109.9L609.4,1108.8L608.9,1104.9L613.7,1104.4L621.4,1108.8L623.5,1110.5L632.2,1108.1L639.9,1109.2L646.4,1106.6L654.0,1101.2L664.9,1098.3L668.2,1099.0L667.1,1103.3L670.4,1103.3L676.5,1102.9L675.8,1107.7L680.2,1113.8L685.6,1109.4L693.3,1104.9L695.5,1111.0L687.8,1120.3L682.4,1121.9L680.9,1127.3L684.6,1134.9L688.9,1136.0L690.0,1139.3L694.4,1140.4L693.9,1146.9L696.1,1150.9L693.3,1153.5 M850.0,969.6L857.7,975.4L862.5,977.3L869.2,984.0L875.0,987.9L880.8,989.2L880.8,994.6L876.9,997.5L878.8,1004.2L876.9,1010.0L878.8,1014.8L875.0,1018.7L877.9,1023.5L874.0,1024.4L878.8,1029.2L885.6,1033.1L889.4,1037.9L891.3,1043.7L895.2,1045.6L896.2,1051.3L901.0,1055.2L904.8,1060.0L907.7,1057.7L914.4,1058.1L914.4,1061.9L907.7,1061.9L905.8,1063.8L910.6,1066.7L913.5,1071.5L916.3,1072.5L917.3,1075.4L922.1,1075.8L926.9,1074.4L931.7,1073.1L938.5,1074.4L942.3,1072.5L946.2,1075.4L949.0,1073.5L954.8,1079.2L960.6,1078.8L957.7,1081.5L953.8,1084.0L948.1,1080.2L940.4,1077.3L932.7,1074.4L926.0,1077.3L919.2,1079.2L916.3,1084.0L913.5,1086.0L917.3,1089.8L920.2,1092.7L924.0,1097.5L926.0,1104.2L927.9,1110.0L930.8,1112.9L932.7,1108.1L937.5,1107.1L940.4,1112.9L941.3,1117.7L944.2,1121.5L946.2,1114.8L950.0,1111.9L954.8,1116.7L959.2,1120.6L954.8,1108.1L951.0,1097.5L949.0,1093.7L954.8,1094.6L959.6,1099.4L963.5,1095.6L966.3,1096.5L961.5,1092.7L959.6,1086.9L956.7,1084.0L963.5,1082.1L969.2,1084.0L974.0,1087.9L977.9,1090.8L975.0,1083.1L967.3,1077.3L959.6,1071.5L953.8,1065.8L946.2,1062.3L953.8,1061.0L955.8,1057.1L951.9,1053.3L954.8,1050.4L960.6,1053.3L958.7,1048.5L953.8,1042.7L949.0,1035.0L945.2,1027.3L946.2,1021.5L951.9,1018.7L953.8,1021.5L950.0,1023.5L954.8,1026.3L961.5,1028.3L969.2,1027.3L973.1,1031.2L976.0,1036.0L976.9,1031.2L973.1,1025.4L978.8,1027.3L984.6,1031.2L980.8,1025.4L975.0,1021.5L970.2,1016.7L976.9,1014.8L984.6,1011.0L992.3,1011.9L1000.0,1009.6L1009.6,1011.9L1021.2,1013.8L1023.1,1018.7L1030.8,1020.0L1037.5,1018.7L1032.7,1023.5L1026.0,1026.3L1025.0,1035.0L1027.9,1030.2L1034.6,1024.4L1042.3,1019.6L1050.0,1013.8L1055.8,1010.0L1063.5,1010.0L1069.2,1008.1L1076.9,1009.6L1086.5,1009.0L1087.5,1005.2 M953.8,1056.2L961.5,1059.0L969.2,1063.8L980.8,1066.7L982.7,1075.4L989.4,1079.2L988.5,1083.1L982.7,1081.2L976.9,1076.3L969.2,1071.5L961.5,1065.8L955.8,1061.9L953.8,1056.2 M1100.0,910.0L1098.1,912.9L1088.5,914.8L1082.7,919.6L1080.8,923.5L1078.8,929.2L1077.9,935.0L1076.0,940.8L1076.9,946.5L1074.0,950.4L1066.3,951.3L1062.5,956.2L1061.5,966.7L1056.7,967.7L1052.9,972.5L1058.7,974.4L1061.5,982.1L1064.4,988.8L1069.2,994.6L1076.9,999.4L1087.5,1003.8L1098.1,1005.2L1107.7,1006.2L1113.5,1004.6L1123.1,1007.1L1134.6,1007.1L1138.5,1003.8L1150.0,998.7 M1087.5,1005.2L1088.5,1010.0L1094.2,1015.4L1105.8,1016.2L1096.2,1016.7L1088.5,1018.7L1083.7,1021.5L1090.4,1023.5L1084.6,1025.4L1076.9,1025.4L1067.3,1026.3L1059.6,1027.3L1053.8,1025.4L1049.0,1024.4L1042.3,1023.5L1037.5,1025.4L1030.8,1027.3L1026.9,1033.1L1024.0,1037.9L1023.1,1046.5L1032.7,1045.6L1041.3,1044.6L1034.6,1051.3L1039.4,1056.2L1037.5,1060.0L1043.3,1061.9L1038.5,1066.7L1040.4,1071.5L1046.2,1072.5L1038.5,1074.4L1034.6,1073.5L1031.7,1077.3L1037.5,1080.2L1041.3,1086.0L1047.1,1087.9L1046.2,1094.6L1051.0,1097.5L1051.9,1101.3L1055.8,1102.3L1050.0,1106.2L1057.7,1108.1L1071.2,1106.2L1059.6,1110.0L1065.4,1111.0L1073.1,1110.0L1077.9,1111.9L1083.7,1113.8L1088.5,1113.5L1088.5,1119.6L1094.2,1123.5L1101.0,1127.3L1106.7,1125.4L1112.5,1123.5L1117.3,1125.4L1121.2,1111.0L1132.7,1111.0L1142.3,1114.8L1150.0,1117.7 M1056.7,1021.5L1064.4,1021.5L1061.5,1024.4L1056.7,1021.5 M1016.9,1053.3L1024.0,1051.3L1030.8,1051.3L1032.7,1058.1L1026.0,1059.0L1016.9,1053.3 M1028.8,1066.7L1033.7,1069.6L1032.7,1074.4L1028.8,1073.5L1028.8,1066.7 M1050.0,1113.8L1057.7,1111.9L1066.3,1111.9L1067.3,1115.8L1057.7,1114.8L1051.0,1116.7L1050.0,1113.8 M1056.7,1127.3L1063.5,1122.5L1069.2,1120.2L1067.3,1127.3L1059.6,1134.0L1056.7,1127.3 M966.3,1142.7L970.2,1138.8L971.2,1141.7L978.8,1140.8L982.7,1144.6L996.2,1143.7L1009.6,1146.5L1015.4,1145.6L1015.4,1151.3L1023.1,1149.4L1026.9,1147.5L1026.9,1153.3L1017.3,1152.7L1007.7,1153.3L994.2,1153.3L984.6,1149.4L973.1,1148.5L966.3,1146.5L966.3,1142.7 M850.0,1023.5L855.8,1027.3L856.7,1032.1L851.9,1038.8L850.0,1037.9 M1100.0,910.0L1102.7,903.5L1101.7,897.7L1098.8,895.8L1100.8,889.0L1107.5,886.2L1114.2,883.3L1117.1,879.4L1120.0,875.6L1123.8,870.8L1129.6,867.9L1139.2,867.9L1145.0,870.8L1146.9,875.6L1152.7,876.5L1156.5,880.4L1166.2,881.3L1177.7,881.3L1186.3,881.9L1189.2,886.2L1179.6,890.0L1170.0,895.8L1162.3,899.6L1171.9,901.5L1177.7,898.7L1173.8,902.5L1179.6,906.3L1184.4,906.3L1187.3,914.0L1186.3,918.8L1182.5,920.8L1189.2,924.6L1195.0,924.6L1202.7,921.7L1210.4,916.0L1218.1,914.0L1222.9,910.2L1227.7,907.3L1235.4,909.6L1243.1,908.3L1250.8,906.9L1251.7,902.5L1246.9,897.7L1241.2,899.6L1235.4,897.7L1231.5,901.5L1226.7,902.5L1220.0,901.2L1214.2,890.0L1209.4,891.9L1206.5,886.2L1209.4,880.4L1226.7,902.5 M1209.4,880.4L1214.2,881.3L1221.9,876.5L1230.6,871.7L1237.3,868.8L1243.1,870.8L1253.7,865.0L1260.4,863.1L1266.2,860.2L1273.8,856.3L1281.5,856.3L1286.3,857.3L1296.9,854.4L1304.6,853.5L1310.4,851.9L1320.0,852.5 M1252.7,904.4L1260.4,903.5L1268.1,902.5L1273.8,897.7L1276.7,891.9L1281.5,887.1L1285.4,881.3L1296.0,883.3L1288.3,876.5L1284.4,871.7L1277.7,866.9L1285.4,865.0L1293.1,866.0L1300.8,860.2L1310.4,856.3L1320.0,853.5 M1165.2,867.9L1173.8,866.0L1185.4,862.7L1189.2,858.3L1193.1,851.5L1196.9,847.7L1204.6,843.8L1214.2,841.9L1221.9,841.0L1223.8,845.8L1216.2,848.7L1204.6,848.7L1195.0,845.8L1194.0,849.6L1190.2,856.3L1186.3,859.2 M1139.2,863.1L1143.1,868.8L1147.9,873.7L1152.7,869.8L1158.5,870.8L1150.8,866.9L1151.7,861.2 M1112.3,874.6L1116.2,878.5L1114.2,881.3L1110.8,876.5L1112.3,874.6 M1083.5,910.2L1088.3,909.6L1085.4,916.0L1081.5,922.7L1080.6,916.9L1083.5,910.2 M1150.0,998.1L1154.6,993.8L1166.2,989.0L1181.5,983.8L1196.9,984.6L1211.3,985.8L1217.1,982.3L1221.5,983.8L1219.0,987.1L1223.8,991.9L1229.6,993.8L1238.3,991.5L1243.1,997.7L1247.9,1003.5L1253.7,1000.0L1260.4,1003.5L1268.1,1006.3L1272.9,1009.2L1276.7,1005.8L1280.6,1010.2L1291.2,1011.5L1300.8,1010.2L1312.3,1008.3L1320.0,1010.2 M1252.7,904.4L1260.4,906.3L1266.2,910.2L1271.0,916.9L1277.7,916.0L1286.3,922.7L1300.8,928.5L1310.4,937.1L1320.0,945.8 M1180.6,1054.4L1184.4,1058.3L1183.5,1063.1L1187.3,1064.0L1190.2,1067.9L1184.4,1071.7L1175.8,1064.0L1180.6,1060.2L1180.6,1054.4 M1320.0,852.3L1326.3,851.5L1331.5,851.5L1325.4,853.5L1320.0,854.6 M1320.0,944.6L1324.4,948.1L1331.2,951.0L1333.1,954.8L1344.6,957.7L1349.4,959.6L1352.3,964.4L1358.1,966.3L1361.9,977.9L1365.4,989.4L1360.0,997.1L1357.1,1000.0L1344.6,1005.8L1330.2,1011.2L1320.0,1009.8 M1413.8,800.0L1413.8,803.8L1408.1,807.7L1402.3,812.5L1408.1,815.4L1402.3,819.2L1396.5,818.3L1390.8,819.2L1396.5,823.1L1394.6,827.9L1387.9,828.8L1394.6,832.7L1393.7,840.4L1385.0,839.4L1379.2,843.3L1373.5,845.2L1372.5,840.4L1375.4,834.6L1380.2,833.7L1382.1,837.5L1387.9,834.6L1388.8,828.8L1392.7,825.0L1394.6,820.2L1402.3,816.3L1401.3,810.6L1408.1,805.8L1409.0,801.0 M1436.0,800.0L1431.2,807.7L1423.5,816.3L1426.3,818.8 M1544.6,868.3L1536.9,870.2L1531.2,872.1L1527.3,876.0L1523.5,879.8L1517.7,881.7L1516.7,888.5L1513.8,884.6L1508.1,889.4L1500.4,890.4L1493.7,894.2L1490.8,890.4L1487.9,898.1L1486.9,904.8L1481.2,911.5L1479.2,915.4L1473.5,918.3L1473.1,924.0L1479.2,926.9L1484.0,929.8L1487.9,935.6L1490.8,940.4L1494.6,938.1L1491.7,948.1L1488.8,946.2L1491.7,939.4L1489.8,956.7L1494.6,963.5L1495.6,969.2L1502.3,976.9L1510.0,987.5L1514.8,990.4L1521.5,998.1L1527.3,1007.7L1535.0,1017.3L1544.6,1020.2 M1544.6,1026.0L1535.0,1029.8L1533.1,1038.5L1531.5,1042.7 M1488.8,857.7L1493.7,860.6L1498.5,866.3L1501.9,875.0L1498.5,867.3L1493.7,862.5L1488.8,857.7 M1435.0,1019.2L1442.7,1023.1L1447.5,1025.0L1450.4,1029.8L1441.7,1030.8L1439.8,1025.0L1435.0,1022.1L1435.0,1019.2 M1149.8,1117.7L1152.1,1118.6L1160.3,1126.8L1168.6,1129.6L1178.2,1127.7L1186.5,1128.2L1190.6,1124.1L1195.6,1125.4L1197.5,1121.3L1209.9,1112.2L1215.4,1113.0L1223.7,1117.7L1230.6,1115.8L1232.0,1113.0L1238.9,1108.9L1243.0,1113.0L1241.6,1118.6L1234.7,1124.1L1238.9,1131.0L1234.7,1135.1L1236.1,1140.6L1233.4,1143.4L1238.0,1148.9L1236.9,1155.8 M1157.6,1155.8L1165.8,1148.9L1171.3,1149.7L1172.7,1144.7L1189.3,1146.1L1208.6,1137.9L1193.9,1148.9L1196.2,1155.8 M1377.2,1070.3L1380.8,1065.4L1391.9,1064.3L1396.0,1059.3L1407.0,1059.8L1398.7,1064.3L1396.0,1068.9L1398.7,1073.1L1391.9,1075.3L1387.7,1071.7L1377.2,1070.3 M1436.0,1078.6L1438.7,1075.8L1445.6,1077.2L1447.0,1086.9L1452.5,1091.0L1455.8,1097.9L1448.4,1103.9L1442.8,1100.6L1441.5,1089.6L1437.3,1085.5L1436.0,1078.6 M1533.0,1049.9L1528.3,1052.4L1525.5,1059.3L1521.4,1060.7L1520.0,1067.6L1521.4,1085.5L1526.9,1092.4L1546.2,1097.1 M980.0,186.2L983.8,185.2L980.0,180.4L989.6,179.4L982.9,175.6L985.8,171.7L990.6,167.9L994.4,171.7L999.2,168.8L1004.0,174.6L1008.8,168.8L1018.5,170.8L1008.8,179.4L1001.2,184.2L1005.0,186.2L1010.8,190.0L1004.0,195.8L998.3,198.7L996.3,196.7L1001.2,190.0L999.2,184.2L1006.9,185.2L1018.5,178.5L1028.1,172.7L1035.8,168.5L1034.8,177.5L1027.1,179.4L1033.8,180.4L1031.0,188.1L1037.7,185.2L1044.4,185.2L1042.5,181.3L1047.3,180.4L1046.3,175.6L1052.1,174.6L1043.5,170.8L1049.2,166.9L1056.0,168.8L1056.9,163.1L1061.7,166.0L1069.4,164.6L1068.5,169.8L1076.2,168.8L1070.4,173.7L1056.9,174.6L1068.5,176.5L1056.9,180.4L1066.5,181.3L1060.8,186.2L1067.5,183.3L1074.2,186.2L1075.8,177.5L1080.0,173.7L1085.8,170.8L1095.4,174.6L1091.5,178.5L1100.2,176.5L1103.1,180.4L1110.8,177.5L1114.6,182.3L1122.3,181.3L1124.2,186.2L1131.0,187.1L1131.5,191.0L1122.3,192.9L1112.7,197.7L1099.2,196.7L1087.7,195.8L1078.1,196.2L1086.7,198.7L1095.4,200.6L1094.4,204.4L1101.2,202.5L1098.3,209.2L1106.0,206.3L1111.7,210.2L1110.8,204.4L1115.6,210.2L1116.5,205.4L1126.2,206.3L1133.8,208.3L1140.6,210.2L1135.8,214.0L1146.3,210.2L1148.3,204.4L1153.1,201.5L1164.6,205.4L1176.2,208.3L1170.4,214.0L1156.9,214.0L1151.2,209.2L1154.0,215.0L1164.6,216.9L1154.0,218.8L1169.4,217.9L1172.3,221.7L1180.0,217.9L1183.8,220.8L1180.0,224.6L1184.8,226.5L1181.0,229.4L1174.2,229.4L1174.2,236.2L1176.2,229.4L1185.8,228.5L1186.2,222.7L1201.2,222.3L1214.6,224.6L1220.4,227.5L1222.3,223.7L1233.8,226.2L1234.8,231.3L1235.8,226.5L1249.2,231.3L1262.7,237.1L1274.2,241.9L1280.0,246.2 M1043.5,234.6L1053.1,230.4L1064.6,224.6L1072.3,221.7L1082.9,217.9L1076.2,224.6L1070.4,228.5L1073.3,232.3L1066.5,234.2L1072.3,237.1L1062.7,238.1L1056.9,241.0L1049.2,241.9L1048.3,238.1L1043.5,234.6 M1148.3,291.0L1156.9,289.0L1172.3,291.9L1164.6,293.8L1174.2,298.7L1184.8,303.5L1186.7,299.6L1194.4,304.4L1198.3,302.5L1203.1,304.4L1206.0,309.2L1214.6,307.7L1228.1,313.1L1239.6,315.0L1253.1,316.5L1268.5,319.8L1280.0,322.7 M1148.3,291.0L1158.8,293.8L1161.7,298.7L1167.5,303.5L1178.1,306.3L1169.4,309.2L1180.0,311.2L1174.2,314.0L1187.7,314.0L1172.3,318.8L1183.8,317.9L1191.5,319.8L1199.2,319.8L1206.0,323.7L1210.8,327.5L1209.8,332.3L1215.6,331.3L1216.5,336.2L1210.8,335.2L1210.8,341.9L1201.2,345.8L1207.9,347.7L1212.7,353.5L1210.8,358.3L1215.6,363.1L1213.7,367.9L1217.5,369.8L1215.6,373.7L1222.3,377.5L1230.0,375.6L1235.8,379.4L1239.6,381.3L1245.4,384.2L1249.2,390.0 M1280.0,361.2L1274.2,354.4L1264.6,351.5L1257.9,352.5L1256.0,358.3L1248.3,359.2L1251.2,365.0L1256.9,367.9L1264.6,374.6L1274.2,376.5L1280.0,373.7 M1139.6,331.3L1149.2,328.8L1156.9,331.3L1159.8,338.1L1166.5,341.9L1165.6,345.8L1157.9,341.9L1149.2,338.1L1142.5,335.2L1139.6,331.3 M1036.7,374.6L1041.5,369.8L1047.3,371.7L1049.2,376.5L1056.9,374.6L1064.6,375.6L1062.7,380.4L1069.4,383.3L1060.8,382.3L1053.1,379.4L1048.3,384.2L1041.5,381.3L1036.7,374.6 M980.0,330.4L988.7,331.3L991.5,337.1L999.2,337.1L1006.9,341.9L1005.0,347.7L1009.8,346.7L1006.9,351.5L1009.8,357.3L1006.0,362.1L1001.2,358.3L989.6,362.1L984.8,369.8L980.0,373.7 M1280.0,245.4L1283.1,247.7L1291.7,253.5L1296.5,251.5L1299.4,255.4L1308.1,259.2L1317.7,263.1L1321.5,259.2L1326.3,263.1L1334.0,266.9L1333.1,269.8L1340.8,270.8L1347.5,272.7L1349.4,287.1L1357.1,291.9L1353.3,300.6L1344.6,307.3L1336.9,313.1L1326.3,317.9L1316.7,320.8L1307.1,322.7L1294.6,323.3L1280.0,323.3 M1280.0,359.2L1288.8,361.2L1294.6,363.1L1283.1,365.0L1292.7,364.0L1304.2,366.9L1315.8,369.8L1322.5,367.3L1336.9,370.8L1340.8,366.9L1335.0,363.1L1332.1,359.2L1334.0,357.3L1328.3,353.5L1321.5,348.7L1319.6,343.8L1321.5,339.0L1335.0,333.3L1342.7,326.5L1359.0,322.7L1367.7,315.0L1374.4,310.2L1381.2,312.1L1382.1,314.6L1397.5,313.1L1404.2,316.9L1409.0,319.8L1397.5,323.7L1410.0,320.8L1415.8,327.5L1416.7,316.9L1421.5,311.2L1426.9,305.4L1421.5,303.5L1425.4,298.7L1419.6,293.8L1408.5,289.0L1412.9,282.3L1417.7,274.6L1416.7,267.9L1421.2,266.9L1417.7,266.9L1419.2,255.4L1409.0,249.6L1397.5,242.3L1413.8,245.8L1433.1,246.7L1452.3,247.7L1458.1,249.6L1456.2,253.5L1469.6,260.2L1467.7,262.1L1473.1,269.8L1460.0,270.8L1445.6,272.3L1434.0,281.9L1433.5,285.2L1440.8,287.1L1448.5,290.0L1451.3,296.7L1458.1,300.6L1473.5,300.0L1491.7,298.7L1496.5,288.1L1500.0,281.3L1497.5,277.5L1508.1,275.6L1517.7,273.7L1518.7,269.8L1513.8,266.9L1523.5,268.8L1533.1,265.0L1546.5,260.8 M1517.7,273.7L1525.4,276.9 M1546.5,222.7L1528.3,216.0L1514.8,218.8L1510.0,224.6L1506.2,229.4L1506.2,238.1L1510.0,237.1L1511.9,241.5L1522.5,240.4L1529.2,238.5L1538.8,235.2L1546.5,229.4 M1280.0,374.0L1284.0,378.5L1280.2,380.4L1283.1,386.2L1285.0,390.0 M1336.9,370.8L1352.3,375.6L1366.7,378.5L1368.7,381.3L1364.8,384.2L1361.0,390.0 M1104.0,469.4L1108.8,466.5L1113.7,461.7L1118.5,458.8L1125.2,454.0L1131.9,456.9L1137.7,457.9L1143.5,462.7L1153.1,467.5L1162.7,472.3L1168.5,479.0L1172.9,485.4L1168.5,491.5L1164.6,490.6L1164.6,497.3L1157.9,501.2L1151.2,498.3L1142.5,500.2L1140.6,506.9L1131.0,507.3L1131.9,501.2L1126.2,491.5L1120.4,485.8L1118.5,480.0L1110.8,474.2L1104.0,469.4 M1090.0,500.8L1095.4,500.8L1105.0,501.2L1106.9,505.0L1115.6,506.5L1111.7,509.2L1101.2,506.9L1090.0,506.0 M1199.2,396.3L1202.1,391.5L1210.8,393.5L1214.6,398.3L1220.4,401.2L1228.1,404.0L1218.5,406.0L1213.7,404.0L1215.6,410.8L1214.6,417.5L1206.9,420.4L1214.6,422.3L1226.2,426.2L1233.8,431.0L1235.8,435.8L1233.8,443.5L1237.7,450.2L1243.5,457.9L1249.2,464.6L1249.2,470.4L1243.5,474.2L1237.7,479.0L1231.9,479.0L1228.1,474.2L1222.3,475.2L1214.6,475.2L1213.7,470.4L1220.4,469.4L1226.2,472.3L1230.0,470.4L1224.2,464.6L1214.6,460.8L1206.9,456.0L1202.1,451.2L1208.8,452.1L1203.1,445.4L1210.8,445.4L1206.0,437.7L1200.2,441.5L1194.4,431.0L1203.1,437.7L1206.9,430.0L1212.7,435.8L1218.5,443.5L1228.1,439.6L1226.2,431.0L1218.5,428.1L1210.8,424.2L1205.0,420.4L1212.7,414.6L1210.8,405.0L1205.0,401.2L1199.2,396.3 M1265.6,500.2L1270.4,495.4L1281.0,495.4L1283.8,502.1L1274.2,504.0L1265.6,500.2 M1262.7,537.7L1270.4,535.8L1272.3,528.1L1281.9,531.0L1292.5,528.1L1287.7,533.8L1293.5,539.6L1301.2,546.3L1306.9,549.2L1303.1,554.0L1299.2,557.9L1292.5,561.7L1287.7,560.8L1287.7,555.0L1280.0,555.0L1274.2,549.2L1268.5,543.5L1262.7,537.7 M1236.7,380.0L1243.5,383.8L1245.4,388.7L1256.9,389.6L1270.4,393.5L1284.8,388.7L1281.9,380.0 M1368.5,380.0L1364.6,385.8L1356.9,394.4L1366.5,399.2L1372.3,413.7L1380.0,415.6 M1356.0,576.2L1364.6,578.1L1370.4,575.2L1380.0,577.1 M1090.0,402.7L1091.5,403.1L1099.2,406.9L1108.8,408.8L1107.9,414.6L1116.5,423.3L1109.8,424.2L1105.0,414.6L1098.3,411.7L1091.5,408.8L1090.0,406.9 M1090.0,457.9L1097.3,455.0L1104.0,449.2L1099.2,441.5L1107.9,443.5L1101.2,437.7L1106.9,431.9L1099.2,428.1L1099.2,435.8L1093.5,430.0L1093.5,439.6L1090.0,440.6 M1139.2,784.6L1142.7,789.0L1148.5,792.9L1151.3,791.0L1160.0,793.8L1164.8,796.7L1167.7,791.9L1172.5,798.7L1177.3,804.4L1175.4,808.3L1169.6,805.4L1163.8,800.6L1156.2,796.7L1149.4,791.9L1144.6,790.0L1139.2,784.6 M1177.3,804.4L1186.9,808.3L1194.6,810.2L1197.5,809.2L1196.5,813.1L1202.3,816.0L1208.1,818.8L1213.8,819.8L1219.6,819.8L1223.1,816.5L1220.6,820.8L1221.2,828.5L1218.7,830.4L1220.6,840.0 M1379.9,415.6L1384.3,419.3L1405.4,427.9L1412.1,434.6L1428.4,436.5L1435.1,440.4L1438.3,446.1 M1379.9,577.7L1384.3,578.3L1388.1,575.4L1385.3,582.1L1393.9,578.3L1395.8,572.6L1398.7,577.4L1395.8,586.9L1400.6,591.7L1392.9,592.7L1398.7,596.5L1392.9,601.3L1399.6,599.4L1407.3,606.1L1415.9,609.0L1420.7,613.8L1428.4,616.6L1441.8,614.1L1445.6,614.7L1454.2,612.2L1457.1,613.8L1469.6,607.6L1478.2,613.8L1491.6,614.1L1492.6,616.6L1500.2,614.1L1503.1,619.5L1510.8,623.3L1525.1,623.7 M1510.8,629.1L1516.5,625.3L1525.1,623.7 M1525.1,624.1L1526.1,630.2L1529.0,638.9L1529.9,631.2L1532.8,636.0L1539.5,635.0L1545.3,636.0 M1545.3,636.9L1535.7,641.7L1528.0,643.7L1520.3,646.5L1519.4,653.2L1527.1,653.2L1518.4,656.1L1510.8,656.1L1508.9,666.6L1516.5,672.4L1520.3,675.3L1520.3,683.9L1526.1,688.7L1545.3,688.7 M1515.6,689.6L1520.3,692.5L1528.0,691.6L1524.2,685.8L1523.2,678.1L1529.9,680.1L1526.1,674.3L1532.8,670.5L1539.5,667.6L1537.6,669.5L1529.9,673.3L1522.3,672.4L1515.6,667.6L1511.7,661.9L1520.3,659.9L1522.3,651.3L1524.2,645.6L1529.9,641.7 M1480.1,730.8L1473.4,734.7L1469.6,730.8L1462.9,733.7L1459.0,739.5L1453.3,744.2L1453.3,749.0L1458.1,752.9L1458.7,758.6L1450.4,760.5L1453.3,768.2L1459.0,772.0L1466.3,771.1L1465.7,775.9L1461.0,772.0L1453.3,771.1L1445.6,776.8L1441.8,785.4L1436.0,793.1L1436.0,800.0 M1403.9,793.5L1407.3,800.8L1414.6,801.7 M15.6,324.9L22.3,333.6L28.5,335.1L26.9,324.4L32.1,323.8L40.8,325.4L51.0,324.9L59.2,322.3L64.4,325.9L71.5,324.9L81.8,321.8L87.9,322.8L93.1,317.7L90.0,310.5L98.2,309.0L107.4,313.1L117.7,314.6L125.9,314.4L135.1,314.1L126.9,315.6L120.8,320.8L124.9,323.8L132.1,326.4L127.9,335.1L138.2,333.1L139.2,336.7L150.5,338.2L153.6,344.4L147.4,348.5L157.7,351.5L155.6,355.6L141.3,354.6L153.6,358.2L150.5,361.8L143.3,361.8L138.2,367.9L132.1,372.1L125.9,379.2L117.7,378.7L102.3,382.8L94.1,387.4L83.8,392.6L73.6,393.6L62.3,394.6L61.3,398.7L54.1,402.8L42.8,405.9L30.5,403.8L15.6,401.1 M423.5,485.4L415.8,490.8L420.8,490.0L419.2,493.8L414.2,496.5L420.4,501.2L421.9,496.9L424.6,491.5L429.6,492.3L426.9,496.9L428.5,500.0L424.6,509.6L421.5,508.5L423.8,500.0L421.5,494.6L423.5,485.4 M420.8,491.5L424.6,494.6L426.2,493.1L423.1,496.9L426.9,499.2L422.3,498.5L420.0,495.4L423.1,491.5"/>
</g>
</g>
<rect x="15.4" y="135.4" width="1530.1499999999999" height="1020.1" fill="none" stroke="#000" stroke-width="2.9"/>
<text x="780.5" y="110.3" font-size="33.33" text-anchor="middle">Probability of November 2022 in the windiest tercile (default = 33%)</text>
<text x="30.3" y="166.9" font-size="29.17" font-weight="bold">Forecast from Climate Futures</text>
<g font-size="20.83">
<text x="30.3" y="211.70">Funded by the Research Council of Norway</text>
<text x="30.3" y="235.03">Based on data from:</text>
<text x="30.3" y="258.36">ECMWF (Europe)</text>
<text x="30.3" y="281.69">UK Met Office (UK)</text>
<text x="30.3" y="305.02">CMCC (Italy)</text>
<text x="30.3" y="328.35">Météo France (France)</text>
<text x="30.3" y="351.68">DWD (Germany)</text>
<text x="30.3" y="375.01">Bjerknes Centre (Norway)</text>
<text x="30.3" y="398.34">Produced 15 August 2022</text>
</g>
<rect x="287.40" y="1185.4" width="207.27" height="45.40" fill="#ded0e1"/>
<rect x="494.17" y="1185.4" width="207.27" height="45.40" fill="#d4a6c4"/>
<rect x="700.93" y="1185.4" width="207.27" height="45.40" fill="#d483ab"/>
<rect x="907.70" y="1185.4" width="207.27" height="45.40" fill="#a96595"/>
<rect x="1114.47" y="1185.4" width="207.27" height="45.40" fill="#775985"/>
<rect x="1321.23" y="1185.4" width="207.27" height="45.40" fill="#453560"/>
<rect x="287.4" y="1185.4" width="1240.60" height="45.40" fill="none" stroke="#000" stroke-width="2.9"/>
<g stroke="#000" stroke-width="2.8">
<line x1="287.40" y1="1230.8" x2="287.40" y2="1245.00"/>
<line x1="494.17" y1="1230.8" x2="494.17" y2="1245.00"/>
<line x1="700.93" y1="1230.8" x2="700.93" y2="1245.00"/>
<line x1="907.70" y1="1230.8" x2="907.70" y2="1245.00"/>
<line x1="1114.47" y1="1230.8" x2="1114.47" y2="1245.00"/>
<line x1="1321.23" y1="1230.8" x2="1321.23" y2="1245.00"/>
<line x1="1528.00" y1="1230.8" x2="1528.00" y2="1245.00"/>
</g>
<g font-size="27.78" text-anchor="middle">
<text x="287.40" y="1280.8">0</text>
<text x="494.17" y="1280.8">17</text>
<text x="700.93" y="1280.8">33</text>
<text x="907.70" y="1280.8">50</text>
<text x="1114.47" y="1280.8">67</text>
<text x="1321.23" y="1280.8">83</text>
<text x="1528.00" y="1280.8">100</text>
</g>
<text x="25.0" y="1216.7" font-size="33.33">Probability (%)</text>
</svg>
</body></html>
